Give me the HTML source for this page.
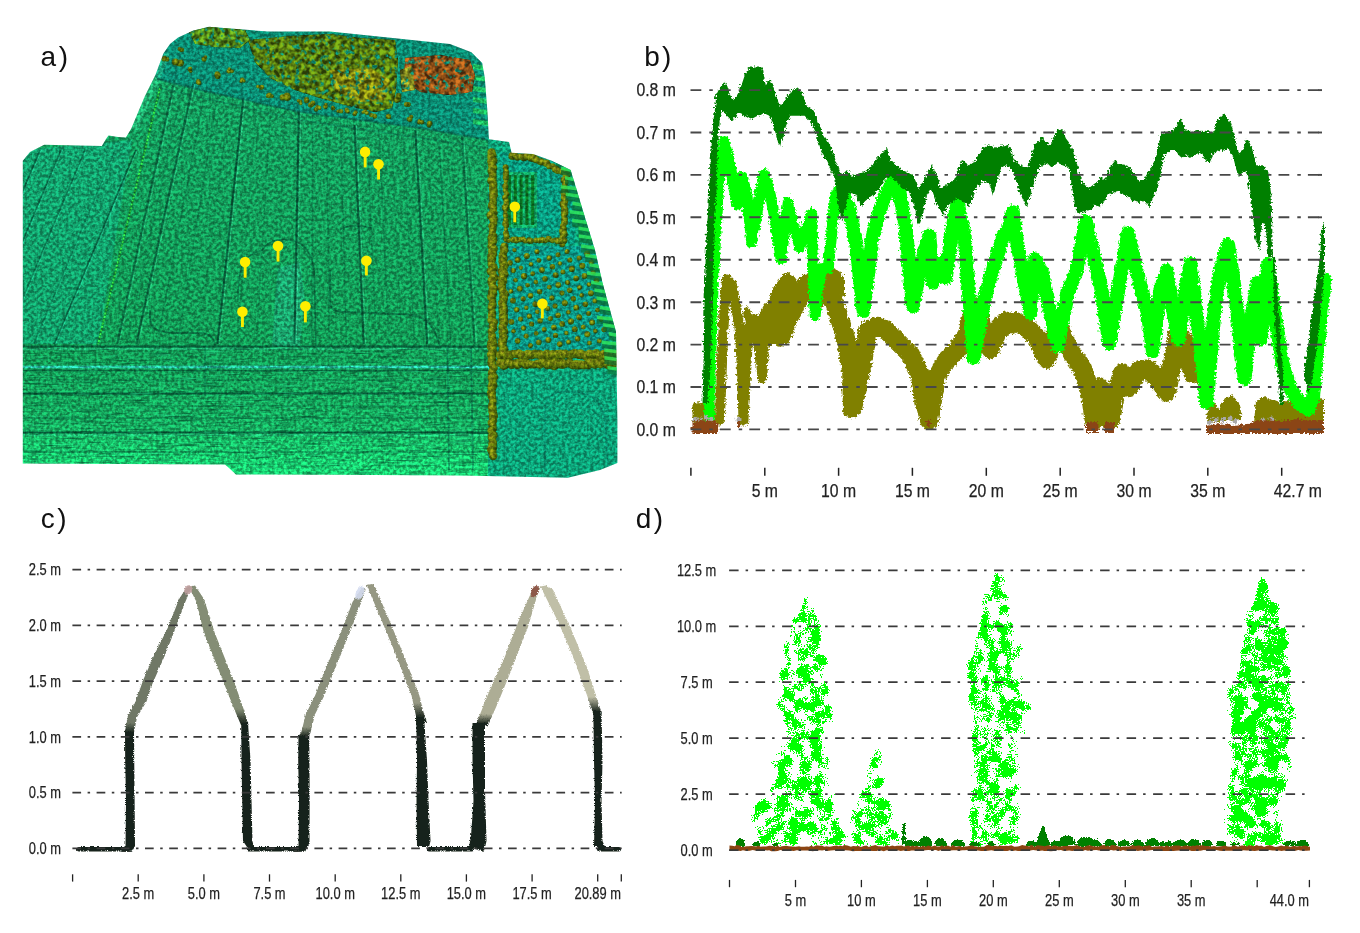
<!DOCTYPE html>
<html><head><meta charset="utf-8"><style>
html,body{margin:0;padding:0;background:#fff;width:1360px;height:933px;overflow:hidden}
svg{display:block}
text{font-family:'Liberation Sans',sans-serif;stroke:#222;stroke-width:0.25px}
</style></head><body>
<svg width="1360" height="933" viewBox="0 0 1360 933">
<defs>
<filter id="jag" x="-2%" y="-5%" width="104%" height="110%">
<feTurbulence type="turbulence" baseFrequency="0.3" numOctaves="1" seed="3" result="n"/>
<feDisplacementMap in="SourceGraphic" in2="n" scale="5" xChannelSelector="R" yChannelSelector="G"/>
</filter>
<filter id="jagc" x="-2%" y="-2%" width="104%" height="104%">
<feTurbulence type="turbulence" baseFrequency="0.5" numOctaves="1" seed="5" result="n"/>
<feDisplacementMap in="SourceGraphic" in2="n" scale="2.5" xChannelSelector="R" yChannelSelector="G"/>
</filter>
<filter id="spk" filterUnits="userSpaceOnUse" x="730" y="555" width="590" height="300" color-interpolation-filters="sRGB">
<feGaussianBlur in="SourceAlpha" stdDeviation="2.2" result="d"/>
<feTurbulence type="fractalNoise" baseFrequency="0.09" numOctaves="2" seed="4" result="lo"/>
<feTurbulence type="fractalNoise" baseFrequency="0.7" numOctaves="1" seed="8" result="hi"/>
<feColorMatrix in="lo" type="matrix" values="0 0 0 0 0  0 0 0 0 0  0 0 0 0 0  1 0 0 0 0" result="loa"/>
<feColorMatrix in="hi" type="matrix" values="0 0 0 0 0  0 0 0 0 0  0 0 0 0 0  1 0 0 0 0" result="hia"/>
<feComposite in="d" in2="loa" operator="arithmetic" k1="2.2" k2="-0.55" k3="0" k4="0" result="s1"/>
<feComposite in="s1" in2="hia" operator="arithmetic" k1="0" k2="1" k3="1.5" k4="-0.79" result="s2"/>
<feComponentTransfer in="s2" result="th"><feFuncA type="discrete" tableValues="0 1"/></feComponentTransfer>
<feFlood flood-color="#00ff00" result="f"/>
<feComposite in="f" in2="th" operator="in"/>
</filter><filter id="spk2" filterUnits="userSpaceOnUse" x="730" y="555" width="590" height="300" color-interpolation-filters="sRGB">
<feGaussianBlur in="SourceAlpha" stdDeviation="2.2" result="d"/>
<feTurbulence type="fractalNoise" baseFrequency="0.09" numOctaves="2" seed="6" result="lo"/>
<feTurbulence type="fractalNoise" baseFrequency="0.7" numOctaves="1" seed="9" result="hi"/>
<feColorMatrix in="lo" type="matrix" values="0 0 0 0 0  0 0 0 0 0  0 0 0 0 0  1 0 0 0 0" result="loa"/>
<feColorMatrix in="hi" type="matrix" values="0 0 0 0 0  0 0 0 0 0  0 0 0 0 0  1 0 0 0 0" result="hia"/>
<feComposite in="d" in2="loa" operator="arithmetic" k1="2.3" k2="-0.5" k3="0" k4="0" result="s1"/>
<feComposite in="s1" in2="hia" operator="arithmetic" k1="0" k2="1" k3="1.5" k4="-0.76" result="s2"/>
<feComponentTransfer in="s2" result="th"><feFuncA type="discrete" tableValues="0 1"/></feComponentTransfer>
<feFlood flood-color="#00ff00" result="f"/>
<feComposite in="f" in2="th" operator="in"/>
</filter><filter id="spkd" filterUnits="userSpaceOnUse" x="730" y="555" width="590" height="300" color-interpolation-filters="sRGB">
<feGaussianBlur in="SourceAlpha" stdDeviation="1.0" result="d"/>
<feTurbulence type="fractalNoise" baseFrequency="0.09" numOctaves="2" seed="3" result="lo"/>
<feTurbulence type="fractalNoise" baseFrequency="0.7" numOctaves="1" seed="5" result="hi"/>
<feColorMatrix in="lo" type="matrix" values="0 0 0 0 0  0 0 0 0 0  0 0 0 0 0  1 0 0 0 0" result="loa"/>
<feColorMatrix in="hi" type="matrix" values="0 0 0 0 0  0 0 0 0 0  0 0 0 0 0  1 0 0 0 0" result="hia"/>
<feComposite in="d" in2="loa" operator="arithmetic" k1="2.6" k2="-0.2" k3="0" k4="0" result="s1"/>
<feComposite in="s1" in2="hia" operator="arithmetic" k1="0" k2="1" k3="1.2" k4="-0.56" result="s2"/>
<feComponentTransfer in="s2" result="th"><feFuncA type="discrete" tableValues="0 1"/></feComponentTransfer>
<feFlood flood-color="#008000" result="f"/>
<feComposite in="f" in2="th" operator="in"/>
</filter>
<filter id="shr" x="-20%" y="-20%" width="140%" height="140%">
<feTurbulence type="turbulence" baseFrequency="0.5" numOctaves="1" seed="2" result="n"/>
<feDisplacementMap in="SourceGraphic" in2="n" scale="3" xChannelSelector="R" yChannelSelector="G"/>
</filter><filter id="streak" x="0" y="0" width="1" height="1" color-interpolation-filters="sRGB">
<feTurbulence type="fractalNoise" baseFrequency="0.04 0.55" numOctaves="2" seed="17" result="n"/>
<feColorMatrix in="n" type="matrix" values="0 0 0 0 0  0 0 0 0 0.25  0 0 0 0 0.15  -2.0 0 0 0 0.92" result="dk"/>
<feColorMatrix in="n" type="matrix" values="0 0 0 0 0.15  0 0 0 0 0.85  0 0 0 0 0.55  0 2.0 0 0 -1.15" result="lt"/>
<feMerge><feMergeNode in="dk"/><feMergeNode in="lt"/></feMerge>
</filter>
<filter id="tex" x="0" y="0" width="1" height="1" color-interpolation-filters="sRGB">
<feTurbulence type="fractalNoise" baseFrequency="0.32" numOctaves="2" seed="11" result="n"/>
<feColorMatrix in="n" type="matrix" values="2.6 0 0 0 -0.8  2.6 0 0 0 -0.8  2.6 0 0 0 -0.8  0 0 0 0 1" result="g"/>
<feComposite in="SourceGraphic" in2="g" operator="arithmetic" k1="0.55" k2="0.78" k3="0" k4="0"/>
</filter>
<filter id="veg" x="0" y="0" width="1" height="1" color-interpolation-filters="sRGB">
<feTurbulence type="fractalNoise" baseFrequency="0.2" numOctaves="2" seed="21" result="n"/>
<feColorMatrix in="n" type="matrix" values="2.6 0 0 0 -0.8  2.6 0 0 0 -0.8  2.6 0 0 0 -0.8  0 0 0 0 1" result="g"/>
<feComposite in="SourceGraphic" in2="g" operator="arithmetic" k1="0.95" k2="0.45" k3="0" k4="0" result="mod"/>
<feColorMatrix in="n" type="matrix" values="0 0 0 0 0  0 0 0 0 0  0 0 0 0 0  0 0 5 0 -1.3" result="m"/>
<feComposite in="mod" in2="m" operator="in"/>
</filter>
</defs>
<clipPath id="aclip"><polygon points="22.8,160.7 30.0,152.0 44.2,144.7 101.8,146.0 106.0,139.0 108.5,135.5 118.0,137.0 125.9,137.5 131.3,128.6 144.7,96.4 155.4,75.0 163.4,53.6 170.0,44.0 178.1,37.5 192.9,30.8 209.0,26.8 230.0,28.5 268.0,31.6 330.0,31.6 388.0,37.5 450.0,44.0 471.4,52.2 482.2,63.0 484.8,77.7 487.5,112.5 488.9,139.3 509.0,142.0 511.6,152.7 533.0,154.0 551.8,160.7 570.6,170.0 576.0,187.5 584.0,214.3 594.7,249.0 602.7,283.6 616.0,331.8 617.4,420.0 617.4,463.0 600.0,470.0 567.9,477.8 460.7,475.5 330.0,474.8 236.0,474.5 229.0,468.0 225.0,464.4 22.8,463.5"/></clipPath>
<radialGradient id="dotg" cx="0.4" cy="0.35" r="0.65"><stop offset="0" stop-color="#8c8c18"/><stop offset="0.5" stop-color="#5e720a"/><stop offset="1" stop-color="#2a4206"/></radialGradient>
<linearGradient id="agrad" x1="0" y1="0" x2="0" y2="1"><stop offset="0" stop-color="#14965c"/><stop offset="0.72" stop-color="#129452"/><stop offset="0.88" stop-color="#16a65c"/><stop offset="1" stop-color="#1ad272"/></linearGradient>
<g clip-path="url(#aclip)">
<g filter="url(#tex)">
<rect x="20" y="20" width="600" height="460" fill="url(#agrad)"/>
<polygon points="140.0,60.0 160.0,40.0 200.0,25.0 480.0,40.0 490.0,60.0 490.0,140.0 420.0,128.0 300.0,112.0 200.0,90.0 157.0,79.0" fill="#0a866e"/>
<polygon points="488.0,139.0 620.0,139.0 620.0,480.0 488.0,480.0" fill="#0c9a72"/>
<polygon points="505,246 596,246 612,350 505,350" fill="#0a9080"/>
<polygon points="500,152 560,160 575,185 575,244 500,244" fill="#08947a"/>
<rect x="505" y="172" width="32" height="56" fill="#10a060"/>
<rect x="508.0" y="175" width="3" height="50" fill="#0a6a20"/>
<rect x="513.8" y="175" width="3" height="50" fill="#0a6a20"/>
<rect x="519.6" y="175" width="3" height="50" fill="#0a6a20"/>
<rect x="525.4" y="175" width="3" height="50" fill="#0a6a20"/>
<rect x="531.2" y="175" width="3" height="50" fill="#0a6a20"/>
<polygon points="22,150 132,140 98,344 22,344" fill="#10a088" opacity="0.35"/>
<polygon points="278,268 300,262 305,300 300,346 272,346 275,300" fill="#30c0b8" opacity="0.22"/>
<polygon points="473,64 488,66 488,71 473,69" fill="#28d050" opacity="0.6"/>
<polygon points="473,75 488,77 488,82 473,80" fill="#28d050" opacity="0.6"/>
<polygon points="473,86 488,88 488,93 473,91" fill="#28d050" opacity="0.6"/>
<polygon points="473,97 488,99 488,104 473,102" fill="#28d050" opacity="0.6"/>
<polygon points="473,108 488,110 488,115 473,113" fill="#28d050" opacity="0.6"/>
<polygon points="473,119 488,121 488,126 473,124" fill="#28d050" opacity="0.6"/>
<line x1="174.4" y1="80.0" x2="117.1" y2="344" stroke="#04402c" stroke-opacity="0.55" stroke-width="2"/>
<line x1="176.4" y1="80.0" x2="119.1" y2="344" stroke="#48e0a8" stroke-opacity="0.25" stroke-width="1.2"/>
<line x1="193.0" y1="84.0" x2="136.3" y2="344" stroke="#04402c" stroke-opacity="0.60" stroke-width="2"/>
<line x1="195.0" y1="84.0" x2="138.3" y2="344" stroke="#48e0a8" stroke-opacity="0.27" stroke-width="1.2"/>
<line x1="243.2" y1="98.5" x2="217.4" y2="344" stroke="#04402c" stroke-opacity="0.75" stroke-width="2"/>
<line x1="245.2" y1="98.5" x2="219.4" y2="344" stroke="#48e0a8" stroke-opacity="0.34" stroke-width="1.2"/>
<line x1="298.8" y1="111.8" x2="294.4" y2="344" stroke="#04402c" stroke-opacity="0.75" stroke-width="2"/>
<line x1="300.8" y1="111.8" x2="296.4" y2="344" stroke="#48e0a8" stroke-opacity="0.34" stroke-width="1.2"/>
<line x1="354.4" y1="125.0" x2="363.6" y2="344" stroke="#04402c" stroke-opacity="0.70" stroke-width="2"/>
<line x1="356.4" y1="125.0" x2="365.6" y2="344" stroke="#48e0a8" stroke-opacity="0.32" stroke-width="1.2"/>
<line x1="415.3" y1="130.0" x2="427.1" y2="344" stroke="#04402c" stroke-opacity="0.70" stroke-width="2"/>
<line x1="417.3" y1="130.0" x2="429.1" y2="344" stroke="#48e0a8" stroke-opacity="0.32" stroke-width="1.2"/>
<line x1="462.0" y1="136.0" x2="474.5" y2="344" stroke="#04402c" stroke-opacity="0.50" stroke-width="2"/>
<line x1="464.0" y1="136.0" x2="476.5" y2="344" stroke="#48e0a8" stroke-opacity="0.23" stroke-width="1.2"/>
<line x1="183.7" y1="82.0" x2="126.7" y2="344" stroke="#04402c" stroke-opacity="0.22" stroke-width="1.4"/>
<line x1="205.6" y1="87.6" x2="156.9" y2="344" stroke="#04402c" stroke-opacity="0.25" stroke-width="1.4"/>
<line x1="218.1" y1="91.2" x2="177.3" y2="344" stroke="#04402c" stroke-opacity="0.25" stroke-width="1.4"/>
<line x1="230.6" y1="94.9" x2="197.5" y2="344" stroke="#04402c" stroke-opacity="0.17" stroke-width="1.4"/>
<line x1="257.1" y1="101.8" x2="236.9" y2="344" stroke="#04402c" stroke-opacity="0.15" stroke-width="1.4"/>
<line x1="271.0" y1="105.2" x2="256.2" y2="344" stroke="#04402c" stroke-opacity="0.21" stroke-width="1.4"/>
<line x1="284.9" y1="108.5" x2="275.4" y2="344" stroke="#04402c" stroke-opacity="0.19" stroke-width="1.4"/>
<line x1="312.7" y1="115.1" x2="311.8" y2="344" stroke="#04402c" stroke-opacity="0.27" stroke-width="1.4"/>
<line x1="326.6" y1="118.4" x2="329.2" y2="344" stroke="#04402c" stroke-opacity="0.25" stroke-width="1.4"/>
<line x1="340.5" y1="121.7" x2="346.4" y2="344" stroke="#04402c" stroke-opacity="0.24" stroke-width="1.4"/>
<line x1="366.6" y1="126.0" x2="376.3" y2="344" stroke="#04402c" stroke-opacity="0.23" stroke-width="1.4"/>
<line x1="378.8" y1="127.0" x2="389.0" y2="344" stroke="#04402c" stroke-opacity="0.25" stroke-width="1.4"/>
<line x1="390.9" y1="128.0" x2="401.7" y2="344" stroke="#04402c" stroke-opacity="0.17" stroke-width="1.4"/>
<line x1="403.1" y1="129.0" x2="414.4" y2="344" stroke="#04402c" stroke-opacity="0.22" stroke-width="1.4"/>
<line x1="427.0" y1="131.5" x2="438.9" y2="344" stroke="#04402c" stroke-opacity="0.17" stroke-width="1.4"/>
<line x1="438.6" y1="133.0" x2="450.8" y2="344" stroke="#04402c" stroke-opacity="0.29" stroke-width="1.4"/>
<line x1="450.3" y1="134.5" x2="462.6" y2="344" stroke="#04402c" stroke-opacity="0.16" stroke-width="1.4"/>
<line x1="160" y1="88" x2="98" y2="344" stroke="#0a6a2a" stroke-opacity="0.7" stroke-width="2"/>
<line x1="160" y1="88" x2="98" y2="344" stroke="#30d040" stroke-opacity="0.95" stroke-width="1.8" stroke-dasharray="2 1.5"/>
<polygon points="163,55 170,52 160,80 148,105 138,130 131,129 144,97 155,75" fill="#40e0a0" opacity="0.3"/>
<line x1="40.0" y1="150" x2="-41.5" y2="344" stroke="#04402c" stroke-opacity="0.59" stroke-width="1.6"/>
<line x1="41.5" y1="150" x2="-40.0" y2="344" stroke="#3ad6b0" stroke-opacity="0.29" stroke-width="1"/>
<line x1="60.9" y1="150" x2="-20.6" y2="344" stroke="#04402c" stroke-opacity="0.54" stroke-width="1.6"/>
<line x1="62.4" y1="150" x2="-19.1" y2="344" stroke="#3ad6b0" stroke-opacity="0.27" stroke-width="1"/>
<line x1="84.9" y1="150" x2="3.5" y2="344" stroke="#04402c" stroke-opacity="0.44" stroke-width="1.6"/>
<line x1="86.4" y1="150" x2="5.0" y2="344" stroke="#3ad6b0" stroke-opacity="0.22" stroke-width="1"/>
<line x1="115.0" y1="150" x2="33.6" y2="344" stroke="#04402c" stroke-opacity="0.31" stroke-width="1.6"/>
<line x1="116.5" y1="150" x2="35.1" y2="344" stroke="#3ad6b0" stroke-opacity="0.15" stroke-width="1"/>
<line x1="135.8" y1="150" x2="54.3" y2="344" stroke="#04402c" stroke-opacity="0.62" stroke-width="1.6"/>
<line x1="137.3" y1="150" x2="55.8" y2="344" stroke="#3ad6b0" stroke-opacity="0.31" stroke-width="1"/>
<polyline points="157,79 200,90 300,112 420,128 488,140" stroke="#0a5a48" stroke-opacity="0.6" fill="none" stroke-width="2"/>
<polyline points="160,88 300,120 488,148" stroke="#0a5a48" stroke-opacity="0.35" fill="none" stroke-width="1.5"/>
<path d="M150,310 C148,330 156,333 180,333 L200,333 C210,333 215,340 215,346" stroke="#04402c" stroke-opacity="0.5" fill="none" stroke-width="1.8"/>
<path d="M238,300 C238,262 245,255 262,250 C268,242 275,238 290,240 C305,242 312,255 314,270 L316,346" stroke="#04402c" stroke-opacity="0.5" fill="none" stroke-width="1.6"/>
<path d="M330,270 L330,300 C330,310 335,312 345,312 L400,314 C420,314 432,322 436,335 L440,346" stroke="#04402c" stroke-opacity="0.5" fill="none" stroke-width="1.8"/>
<path d="M340,230 C345,225 360,225 372,228" stroke="#04402c" stroke-opacity="0.5" fill="none" stroke-width="1.4"/>
<line x1="22.8" y1="346.5" x2="490" y2="346.5" stroke="#04402c" stroke-opacity="0.7" stroke-width="2.2"/>
<line x1="22.8" y1="349" x2="490" y2="349" stroke="#40d8b0" stroke-opacity="0.5" stroke-width="1.2"/>
<line x1="22.8" y1="367" x2="490" y2="367" stroke="#30c8b8" stroke-opacity="0.8" stroke-width="2.6"/>
<line x1="22.8" y1="370.5" x2="490" y2="370.5" stroke="#04402c" stroke-opacity="0.6" stroke-width="1.6"/>
<line x1="22.8" y1="393.4" x2="490" y2="393.4" stroke="#04402c" stroke-opacity="0.75" stroke-width="2"/>
<line x1="22.8" y1="432.5" x2="490" y2="432.5" stroke="#04402c" stroke-opacity="0.8" stroke-width="2"/>
<line x1="22.8" y1="435" x2="490" y2="435" stroke="#40d8b0" stroke-opacity="0.4" stroke-width="1.2"/>
<line x1="22.8" y1="418" x2="490" y2="418" stroke="#04402c" stroke-opacity="0.35" stroke-width="1.5"/>
<line x1="22.8" y1="452" x2="490" y2="452" stroke="#04402c" stroke-opacity="0.4" stroke-width="1.5"/>
<line x1="22.8" y1="380" x2="490" y2="380" stroke="#04402c" stroke-opacity="0.3" stroke-width="1.2"/>
<line x1="22.8" y1="406" x2="490" y2="406" stroke="#04402c" stroke-opacity="0.3" stroke-width="1.2"/>
<line x1="447.5" y1="346" x2="449" y2="470" stroke="#06503e" stroke-opacity="0.45" stroke-width="1.8"/>
<line x1="471" y1="346" x2="473" y2="470" stroke="#06503e" stroke-opacity="0.45" stroke-width="1.8"/>
<line x1="205" y1="346" x2="205" y2="395" stroke="#06503e" stroke-opacity="0.4" stroke-width="1.5"/>
<path d="M545,470 L545,410 C545,395 555,390 575,392 C595,394 600,400 605,420 L608,470" stroke="#0a6a5a" stroke-opacity="0.5" fill="none" stroke-width="1.5"/>
<circle cx="178.7" cy="63.0" r="3.3" fill="url(#dotg)"/>
<circle cx="180.5" cy="63.0" r="3.5" fill="url(#dotg)"/>
<circle cx="175.4" cy="61.9" r="3.5" fill="url(#dotg)"/>
<circle cx="190.6" cy="71.2" r="1.8" fill="url(#dotg)"/>
<circle cx="189.9" cy="69.2" r="2.2" fill="url(#dotg)"/>
<circle cx="190.3" cy="68.5" r="1.9" fill="url(#dotg)"/>
<circle cx="204.1" cy="59.2" r="2.5" fill="url(#dotg)"/>
<circle cx="203.6" cy="58.9" r="1.8" fill="url(#dotg)"/>
<circle cx="205.5" cy="56.9" r="1.7" fill="url(#dotg)"/>
<circle cx="217.1" cy="73.8" r="2.5" fill="url(#dotg)"/>
<circle cx="217.7" cy="76.5" r="2.6" fill="url(#dotg)"/>
<circle cx="217.6" cy="75.2" r="3.1" fill="url(#dotg)"/>
<circle cx="228.8" cy="71.3" r="2.4" fill="url(#dotg)"/>
<circle cx="232.0" cy="71.2" r="2.0" fill="url(#dotg)"/>
<circle cx="229.4" cy="69.0" r="1.8" fill="url(#dotg)"/>
<circle cx="198.2" cy="81.4" r="2.3" fill="url(#dotg)"/>
<circle cx="197.9" cy="82.5" r="2.0" fill="url(#dotg)"/>
<circle cx="199.2" cy="83.0" r="2.2" fill="url(#dotg)"/>
<circle cx="242.2" cy="79.9" r="2.4" fill="url(#dotg)"/>
<circle cx="241.1" cy="81.4" r="1.7" fill="url(#dotg)"/>
<circle cx="244.0" cy="81.0" r="1.7" fill="url(#dotg)"/>
<circle cx="261.2" cy="87.6" r="2.3" fill="url(#dotg)"/>
<circle cx="257.9" cy="86.6" r="1.8" fill="url(#dotg)"/>
<circle cx="261.9" cy="87.1" r="2.4" fill="url(#dotg)"/>
<circle cx="271.8" cy="96.3" r="2.0" fill="url(#dotg)"/>
<circle cx="269.4" cy="95.1" r="2.5" fill="url(#dotg)"/>
<circle cx="268.4" cy="95.7" r="2.5" fill="url(#dotg)"/>
<circle cx="287.0" cy="96.1" r="3.5" fill="url(#dotg)"/>
<circle cx="282.7" cy="97.4" r="3.1" fill="url(#dotg)"/>
<circle cx="287.3" cy="97.4" r="3.5" fill="url(#dotg)"/>
<circle cx="300.2" cy="101.4" r="2.0" fill="url(#dotg)"/>
<circle cx="298.6" cy="100.7" r="1.8" fill="url(#dotg)"/>
<circle cx="300.8" cy="103.5" r="1.8" fill="url(#dotg)"/>
<circle cx="316.1" cy="109.5" r="2.2" fill="url(#dotg)"/>
<circle cx="317.6" cy="107.2" r="2.3" fill="url(#dotg)"/>
<circle cx="319.4" cy="107.9" r="2.1" fill="url(#dotg)"/>
<circle cx="338.1" cy="111.2" r="1.7" fill="url(#dotg)"/>
<circle cx="340.0" cy="111.0" r="1.8" fill="url(#dotg)"/>
<circle cx="341.0" cy="111.3" r="2.3" fill="url(#dotg)"/>
<circle cx="411.2" cy="116.8" r="2.1" fill="url(#dotg)"/>
<circle cx="408.5" cy="119.0" r="2.0" fill="url(#dotg)"/>
<circle cx="409.8" cy="119.5" r="2.5" fill="url(#dotg)"/>
<circle cx="182.0" cy="49.9" r="2.2" fill="url(#dotg)"/>
<circle cx="181.0" cy="49.9" r="2.0" fill="url(#dotg)"/>
<circle cx="179.6" cy="48.9" r="2.0" fill="url(#dotg)"/>
<circle cx="167.1" cy="59.4" r="2.3" fill="url(#dotg)"/>
<circle cx="165.0" cy="57.5" r="1.7" fill="url(#dotg)"/>
<circle cx="164.0" cy="58.8" r="2.6" fill="url(#dotg)"/>
<circle cx="379.4" cy="48.9" r="2.5" fill="url(#dotg)"/>
<circle cx="380.8" cy="48.5" r="2.4" fill="url(#dotg)"/>
<circle cx="379.4" cy="48.6" r="1.9" fill="url(#dotg)"/>
<circle cx="397.9" cy="99.1" r="3.2" fill="url(#dotg)"/>
<circle cx="396.8" cy="99.8" r="3.1" fill="url(#dotg)"/>
<circle cx="398.5" cy="96.0" r="3.0" fill="url(#dotg)"/>
<circle cx="406.0" cy="104.5" r="2.1" fill="url(#dotg)"/>
<circle cx="408.3" cy="104.4" r="2.5" fill="url(#dotg)"/>
<circle cx="406.4" cy="104.4" r="2.4" fill="url(#dotg)"/>
<circle cx="306.4" cy="99.6" r="2.5" fill="url(#dotg)"/>
<circle cx="306.6" cy="100.6" r="2.7" fill="url(#dotg)"/>
<circle cx="306.9" cy="100.1" r="2.2" fill="url(#dotg)"/>
<circle cx="310.6" cy="105.0" r="2.6" fill="url(#dotg)"/>
<circle cx="311.9" cy="104.6" r="2.4" fill="url(#dotg)"/>
<circle cx="313.0" cy="103.0" r="2.5" fill="url(#dotg)"/>
<circle cx="325.3" cy="106.5" r="2.1" fill="url(#dotg)"/>
<circle cx="325.5" cy="106.8" r="2.3" fill="url(#dotg)"/>
<circle cx="325.9" cy="104.6" r="1.8" fill="url(#dotg)"/>
<circle cx="332.8" cy="108.5" r="1.9" fill="url(#dotg)"/>
<circle cx="333.8" cy="108.4" r="1.7" fill="url(#dotg)"/>
<circle cx="332.9" cy="107.2" r="1.7" fill="url(#dotg)"/>
<circle cx="346.5" cy="110.5" r="1.8" fill="url(#dotg)"/>
<circle cx="346.7" cy="109.6" r="2.1" fill="url(#dotg)"/>
<circle cx="347.5" cy="111.3" r="2.3" fill="url(#dotg)"/>
<circle cx="354.9" cy="114.2" r="1.7" fill="url(#dotg)"/>
<circle cx="355.6" cy="112.3" r="2.1" fill="url(#dotg)"/>
<circle cx="354.4" cy="114.0" r="2.0" fill="url(#dotg)"/>
<circle cx="363.1" cy="112.3" r="1.7" fill="url(#dotg)"/>
<circle cx="365.2" cy="111.5" r="2.3" fill="url(#dotg)"/>
<circle cx="366.9" cy="113.0" r="2.1" fill="url(#dotg)"/>
<circle cx="374.3" cy="115.4" r="2.0" fill="url(#dotg)"/>
<circle cx="371.5" cy="115.3" r="2.2" fill="url(#dotg)"/>
<circle cx="374.9" cy="116.4" r="2.3" fill="url(#dotg)"/>
<circle cx="389.4" cy="117.2" r="1.7" fill="url(#dotg)"/>
<circle cx="388.4" cy="116.2" r="2.3" fill="url(#dotg)"/>
<circle cx="388.5" cy="116.4" r="2.6" fill="url(#dotg)"/>
<circle cx="419.5" cy="120.8" r="1.9" fill="url(#dotg)"/>
<circle cx="419.1" cy="122.4" r="2.0" fill="url(#dotg)"/>
<circle cx="421.9" cy="122.2" r="2.3" fill="url(#dotg)"/>
<circle cx="429.0" cy="125.4" r="2.2" fill="url(#dotg)"/>
<circle cx="429.6" cy="123.5" r="2.7" fill="url(#dotg)"/>
<circle cx="430.0" cy="123.4" r="2.2" fill="url(#dotg)"/>
<circle cx="491.5" cy="152.3" r="4.1" fill="url(#dotg)"/>
<circle cx="492.0" cy="155.3" r="4.6" fill="url(#dotg)"/>
<circle cx="491.2" cy="157.3" r="3.9" fill="url(#dotg)"/>
<circle cx="493.6" cy="160.6" r="3.9" fill="url(#dotg)"/>
<circle cx="491.9" cy="161.6" r="4.8" fill="url(#dotg)"/>
<circle cx="492.0" cy="165.3" r="4.2" fill="url(#dotg)"/>
<circle cx="492.9" cy="167.9" r="4.5" fill="url(#dotg)"/>
<circle cx="491.5" cy="171.0" r="4.0" fill="url(#dotg)"/>
<circle cx="492.6" cy="172.5" r="4.0" fill="url(#dotg)"/>
<circle cx="492.6" cy="175.4" r="4.0" fill="url(#dotg)"/>
<circle cx="493.1" cy="178.4" r="3.6" fill="url(#dotg)"/>
<circle cx="491.9" cy="180.6" r="4.7" fill="url(#dotg)"/>
<circle cx="493.5" cy="183.5" r="3.6" fill="url(#dotg)"/>
<circle cx="493.2" cy="185.8" r="4.3" fill="url(#dotg)"/>
<circle cx="493.0" cy="188.9" r="4.2" fill="url(#dotg)"/>
<circle cx="493.6" cy="190.9" r="4.1" fill="url(#dotg)"/>
<circle cx="493.4" cy="193.0" r="4.0" fill="url(#dotg)"/>
<circle cx="493.4" cy="195.3" r="4.6" fill="url(#dotg)"/>
<circle cx="493.0" cy="198.8" r="3.9" fill="url(#dotg)"/>
<circle cx="493.2" cy="202.7" r="3.8" fill="url(#dotg)"/>
<circle cx="492.4" cy="204.4" r="4.2" fill="url(#dotg)"/>
<circle cx="492.1" cy="206.0" r="4.3" fill="url(#dotg)"/>
<circle cx="493.3" cy="208.3" r="3.9" fill="url(#dotg)"/>
<circle cx="493.3" cy="212.8" r="4.4" fill="url(#dotg)"/>
<circle cx="491.3" cy="215.3" r="4.8" fill="url(#dotg)"/>
<circle cx="493.8" cy="217.8" r="3.7" fill="url(#dotg)"/>
<circle cx="493.4" cy="219.2" r="4.4" fill="url(#dotg)"/>
<circle cx="493.7" cy="223.1" r="3.8" fill="url(#dotg)"/>
<circle cx="492.0" cy="226.2" r="3.8" fill="url(#dotg)"/>
<circle cx="492.8" cy="227.5" r="3.8" fill="url(#dotg)"/>
<circle cx="492.8" cy="229.2" r="3.7" fill="url(#dotg)"/>
<circle cx="492.2" cy="231.9" r="3.7" fill="url(#dotg)"/>
<circle cx="492.7" cy="236.2" r="4.7" fill="url(#dotg)"/>
<circle cx="491.5" cy="238.0" r="4.0" fill="url(#dotg)"/>
<circle cx="492.8" cy="240.8" r="4.7" fill="url(#dotg)"/>
<circle cx="492.2" cy="242.3" r="4.4" fill="url(#dotg)"/>
<circle cx="491.6" cy="246.4" r="4.2" fill="url(#dotg)"/>
<circle cx="493.6" cy="248.8" r="4.3" fill="url(#dotg)"/>
<circle cx="491.9" cy="251.4" r="3.9" fill="url(#dotg)"/>
<circle cx="493.2" cy="253.9" r="3.8" fill="url(#dotg)"/>
<circle cx="491.8" cy="256.1" r="4.5" fill="url(#dotg)"/>
<circle cx="491.7" cy="259.6" r="4.4" fill="url(#dotg)"/>
<circle cx="491.4" cy="262.1" r="3.7" fill="url(#dotg)"/>
<circle cx="491.5" cy="264.6" r="3.9" fill="url(#dotg)"/>
<circle cx="493.5" cy="266.9" r="4.0" fill="url(#dotg)"/>
<circle cx="493.3" cy="268.3" r="4.5" fill="url(#dotg)"/>
<circle cx="491.3" cy="271.2" r="4.7" fill="url(#dotg)"/>
<circle cx="493.0" cy="274.0" r="3.7" fill="url(#dotg)"/>
<circle cx="493.7" cy="277.8" r="4.6" fill="url(#dotg)"/>
<circle cx="491.6" cy="280.3" r="4.0" fill="url(#dotg)"/>
<circle cx="491.8" cy="282.2" r="4.3" fill="url(#dotg)"/>
<circle cx="492.1" cy="284.9" r="3.8" fill="url(#dotg)"/>
<circle cx="493.4" cy="288.2" r="4.6" fill="url(#dotg)"/>
<circle cx="492.3" cy="291.4" r="4.2" fill="url(#dotg)"/>
<circle cx="492.7" cy="293.2" r="4.5" fill="url(#dotg)"/>
<circle cx="492.2" cy="294.6" r="3.6" fill="url(#dotg)"/>
<circle cx="491.7" cy="297.1" r="4.7" fill="url(#dotg)"/>
<circle cx="492.5" cy="301.6" r="3.6" fill="url(#dotg)"/>
<circle cx="492.4" cy="304.5" r="4.3" fill="url(#dotg)"/>
<circle cx="492.3" cy="306.0" r="3.7" fill="url(#dotg)"/>
<circle cx="491.6" cy="307.8" r="4.0" fill="url(#dotg)"/>
<circle cx="492.2" cy="312.3" r="3.8" fill="url(#dotg)"/>
<circle cx="491.9" cy="313.4" r="3.8" fill="url(#dotg)"/>
<circle cx="491.9" cy="315.9" r="4.2" fill="url(#dotg)"/>
<circle cx="491.3" cy="320.3" r="4.0" fill="url(#dotg)"/>
<circle cx="493.6" cy="322.3" r="4.4" fill="url(#dotg)"/>
<circle cx="492.4" cy="325.6" r="3.7" fill="url(#dotg)"/>
<circle cx="492.9" cy="326.5" r="4.4" fill="url(#dotg)"/>
<circle cx="493.1" cy="328.7" r="3.8" fill="url(#dotg)"/>
<circle cx="491.3" cy="331.5" r="3.7" fill="url(#dotg)"/>
<circle cx="492.2" cy="336.1" r="4.0" fill="url(#dotg)"/>
<circle cx="492.0" cy="337.4" r="3.9" fill="url(#dotg)"/>
<circle cx="493.1" cy="340.6" r="3.8" fill="url(#dotg)"/>
<circle cx="491.8" cy="343.1" r="4.7" fill="url(#dotg)"/>
<circle cx="492.9" cy="345.1" r="4.8" fill="url(#dotg)"/>
<circle cx="491.2" cy="346.8" r="4.5" fill="url(#dotg)"/>
<circle cx="492.3" cy="349.3" r="4.3" fill="url(#dotg)"/>
<circle cx="493.8" cy="353.2" r="4.0" fill="url(#dotg)"/>
<circle cx="491.4" cy="354.6" r="4.7" fill="url(#dotg)"/>
<circle cx="492.5" cy="359.5" r="3.7" fill="url(#dotg)"/>
<circle cx="491.8" cy="359.8" r="4.1" fill="url(#dotg)"/>
<circle cx="491.4" cy="362.9" r="4.1" fill="url(#dotg)"/>
<circle cx="492.0" cy="365.0" r="3.6" fill="url(#dotg)"/>
<circle cx="493.7" cy="368.0" r="4.2" fill="url(#dotg)"/>
<circle cx="492.2" cy="371.5" r="3.7" fill="url(#dotg)"/>
<circle cx="492.0" cy="373.0" r="4.3" fill="url(#dotg)"/>
<circle cx="493.6" cy="376.9" r="4.6" fill="url(#dotg)"/>
<circle cx="491.8" cy="378.0" r="4.2" fill="url(#dotg)"/>
<circle cx="492.5" cy="382.0" r="4.1" fill="url(#dotg)"/>
<circle cx="492.8" cy="385.1" r="4.7" fill="url(#dotg)"/>
<circle cx="492.0" cy="387.0" r="4.6" fill="url(#dotg)"/>
<circle cx="491.8" cy="388.7" r="4.0" fill="url(#dotg)"/>
<circle cx="491.4" cy="393.0" r="4.6" fill="url(#dotg)"/>
<circle cx="492.0" cy="394.0" r="3.7" fill="url(#dotg)"/>
<circle cx="491.8" cy="396.5" r="4.1" fill="url(#dotg)"/>
<circle cx="492.7" cy="399.5" r="3.7" fill="url(#dotg)"/>
<circle cx="493.0" cy="401.6" r="3.8" fill="url(#dotg)"/>
<circle cx="491.9" cy="405.0" r="3.7" fill="url(#dotg)"/>
<circle cx="492.3" cy="407.5" r="4.5" fill="url(#dotg)"/>
<circle cx="492.6" cy="411.6" r="4.4" fill="url(#dotg)"/>
<circle cx="493.2" cy="413.4" r="4.1" fill="url(#dotg)"/>
<circle cx="493.3" cy="416.2" r="4.7" fill="url(#dotg)"/>
<circle cx="493.1" cy="419.0" r="3.9" fill="url(#dotg)"/>
<circle cx="493.3" cy="420.7" r="3.8" fill="url(#dotg)"/>
<circle cx="491.4" cy="422.8" r="3.9" fill="url(#dotg)"/>
<circle cx="493.0" cy="425.7" r="3.7" fill="url(#dotg)"/>
<circle cx="493.2" cy="429.0" r="3.6" fill="url(#dotg)"/>
<circle cx="491.3" cy="430.5" r="4.0" fill="url(#dotg)"/>
<circle cx="493.4" cy="435.3" r="4.3" fill="url(#dotg)"/>
<circle cx="491.8" cy="436.5" r="4.0" fill="url(#dotg)"/>
<circle cx="492.1" cy="438.1" r="4.3" fill="url(#dotg)"/>
<circle cx="493.3" cy="442.5" r="3.7" fill="url(#dotg)"/>
<circle cx="492.6" cy="443.7" r="4.5" fill="url(#dotg)"/>
<circle cx="492.4" cy="448.3" r="4.6" fill="url(#dotg)"/>
<circle cx="491.5" cy="449.3" r="4.7" fill="url(#dotg)"/>
<circle cx="492.4" cy="452.2" r="4.1" fill="url(#dotg)"/>
<circle cx="493.2" cy="456.1" r="4.2" fill="url(#dotg)"/>
<circle cx="504.2" cy="246.2" r="3.7" fill="url(#dotg)"/>
<circle cx="503.8" cy="248.4" r="3.7" fill="url(#dotg)"/>
<circle cx="504.2" cy="250.1" r="4.3" fill="url(#dotg)"/>
<circle cx="503.0" cy="254.9" r="4.1" fill="url(#dotg)"/>
<circle cx="502.3" cy="256.0" r="3.8" fill="url(#dotg)"/>
<circle cx="503.2" cy="258.8" r="4.5" fill="url(#dotg)"/>
<circle cx="502.3" cy="261.4" r="3.9" fill="url(#dotg)"/>
<circle cx="504.3" cy="265.3" r="4.6" fill="url(#dotg)"/>
<circle cx="503.3" cy="266.8" r="3.8" fill="url(#dotg)"/>
<circle cx="503.9" cy="269.7" r="3.6" fill="url(#dotg)"/>
<circle cx="502.1" cy="271.3" r="4.5" fill="url(#dotg)"/>
<circle cx="504.0" cy="274.2" r="4.6" fill="url(#dotg)"/>
<circle cx="502.5" cy="278.1" r="4.6" fill="url(#dotg)"/>
<circle cx="503.3" cy="281.1" r="4.1" fill="url(#dotg)"/>
<circle cx="501.7" cy="282.9" r="4.3" fill="url(#dotg)"/>
<circle cx="502.2" cy="285.3" r="4.0" fill="url(#dotg)"/>
<circle cx="501.8" cy="287.7" r="4.1" fill="url(#dotg)"/>
<circle cx="502.9" cy="291.3" r="4.1" fill="url(#dotg)"/>
<circle cx="504.3" cy="294.3" r="4.7" fill="url(#dotg)"/>
<circle cx="503.5" cy="296.5" r="4.2" fill="url(#dotg)"/>
<circle cx="503.8" cy="298.4" r="4.3" fill="url(#dotg)"/>
<circle cx="503.5" cy="301.4" r="3.9" fill="url(#dotg)"/>
<circle cx="501.9" cy="302.9" r="4.0" fill="url(#dotg)"/>
<circle cx="503.2" cy="307.3" r="4.5" fill="url(#dotg)"/>
<circle cx="502.5" cy="310.4" r="3.9" fill="url(#dotg)"/>
<circle cx="503.6" cy="310.8" r="4.5" fill="url(#dotg)"/>
<circle cx="503.4" cy="315.7" r="4.7" fill="url(#dotg)"/>
<circle cx="503.5" cy="318.1" r="4.5" fill="url(#dotg)"/>
<circle cx="503.3" cy="319.1" r="4.2" fill="url(#dotg)"/>
<circle cx="504.0" cy="321.8" r="4.8" fill="url(#dotg)"/>
<circle cx="503.1" cy="324.8" r="3.6" fill="url(#dotg)"/>
<circle cx="502.7" cy="326.9" r="4.4" fill="url(#dotg)"/>
<circle cx="504.0" cy="331.4" r="4.3" fill="url(#dotg)"/>
<circle cx="502.7" cy="332.0" r="4.4" fill="url(#dotg)"/>
<circle cx="503.1" cy="336.2" r="4.0" fill="url(#dotg)"/>
<circle cx="504.0" cy="337.5" r="4.0" fill="url(#dotg)"/>
<circle cx="502.4" cy="341.2" r="4.7" fill="url(#dotg)"/>
<circle cx="502.1" cy="343.9" r="4.5" fill="url(#dotg)"/>
<circle cx="502.3" cy="345.0" r="4.3" fill="url(#dotg)"/>
<circle cx="503.9" cy="349.8" r="4.5" fill="url(#dotg)"/>
<circle cx="502.8" cy="351.3" r="4.2" fill="url(#dotg)"/>
<circle cx="504.1" cy="353.6" r="3.9" fill="url(#dotg)"/>
<circle cx="503.3" cy="357.9" r="3.8" fill="url(#dotg)"/>
<circle cx="501.8" cy="358.4" r="4.3" fill="url(#dotg)"/>
<circle cx="503.3" cy="361.2" r="3.8" fill="url(#dotg)"/>
<circle cx="500.3" cy="355.4" r="4.6" fill="url(#dotg)"/>
<circle cx="503.3" cy="353.8" r="4.4" fill="url(#dotg)"/>
<circle cx="506.2" cy="356.3" r="4.2" fill="url(#dotg)"/>
<circle cx="508.9" cy="355.4" r="4.9" fill="url(#dotg)"/>
<circle cx="509.8" cy="355.6" r="4.8" fill="url(#dotg)"/>
<circle cx="513.1" cy="353.9" r="4.0" fill="url(#dotg)"/>
<circle cx="514.9" cy="353.9" r="4.0" fill="url(#dotg)"/>
<circle cx="518.8" cy="353.9" r="4.7" fill="url(#dotg)"/>
<circle cx="521.8" cy="355.9" r="4.8" fill="url(#dotg)"/>
<circle cx="524.3" cy="356.2" r="4.9" fill="url(#dotg)"/>
<circle cx="526.7" cy="356.3" r="3.9" fill="url(#dotg)"/>
<circle cx="527.9" cy="353.8" r="4.0" fill="url(#dotg)"/>
<circle cx="531.3" cy="354.9" r="4.6" fill="url(#dotg)"/>
<circle cx="535.0" cy="353.8" r="4.3" fill="url(#dotg)"/>
<circle cx="537.0" cy="354.7" r="3.9" fill="url(#dotg)"/>
<circle cx="539.8" cy="354.6" r="4.6" fill="url(#dotg)"/>
<circle cx="542.2" cy="356.3" r="4.9" fill="url(#dotg)"/>
<circle cx="543.6" cy="355.7" r="4.7" fill="url(#dotg)"/>
<circle cx="546.9" cy="353.9" r="4.4" fill="url(#dotg)"/>
<circle cx="549.7" cy="355.7" r="4.9" fill="url(#dotg)"/>
<circle cx="552.4" cy="354.4" r="4.4" fill="url(#dotg)"/>
<circle cx="555.9" cy="355.8" r="4.5" fill="url(#dotg)"/>
<circle cx="557.4" cy="354.5" r="4.8" fill="url(#dotg)"/>
<circle cx="560.7" cy="353.7" r="4.3" fill="url(#dotg)"/>
<circle cx="562.5" cy="355.5" r="3.9" fill="url(#dotg)"/>
<circle cx="565.3" cy="353.9" r="4.4" fill="url(#dotg)"/>
<circle cx="569.9" cy="355.1" r="4.3" fill="url(#dotg)"/>
<circle cx="572.4" cy="353.9" r="4.2" fill="url(#dotg)"/>
<circle cx="574.7" cy="353.6" r="4.7" fill="url(#dotg)"/>
<circle cx="576.1" cy="353.6" r="4.1" fill="url(#dotg)"/>
<circle cx="579.0" cy="354.7" r="4.4" fill="url(#dotg)"/>
<circle cx="580.5" cy="354.2" r="5.0" fill="url(#dotg)"/>
<circle cx="584.2" cy="354.9" r="3.9" fill="url(#dotg)"/>
<circle cx="586.4" cy="356.3" r="4.6" fill="url(#dotg)"/>
<circle cx="589.7" cy="353.7" r="4.3" fill="url(#dotg)"/>
<circle cx="593.1" cy="354.8" r="4.5" fill="url(#dotg)"/>
<circle cx="596.0" cy="355.4" r="4.6" fill="url(#dotg)"/>
<circle cx="596.2" cy="353.7" r="4.7" fill="url(#dotg)"/>
<circle cx="599.9" cy="356.0" r="4.8" fill="url(#dotg)"/>
<circle cx="604.0" cy="354.7" r="5.0" fill="url(#dotg)"/>
<circle cx="606.2" cy="356.1" r="4.0" fill="url(#dotg)"/>
<circle cx="608.9" cy="354.8" r="5.0" fill="url(#dotg)"/>
<circle cx="612.1" cy="354.2" r="4.3" fill="url(#dotg)"/>
<circle cx="612.7" cy="354.9" r="4.1" fill="url(#dotg)"/>
<circle cx="616.5" cy="353.9" r="4.0" fill="url(#dotg)"/>
<circle cx="499.9" cy="362.8" r="4.3" fill="url(#dotg)"/>
<circle cx="503.7" cy="365.1" r="4.0" fill="url(#dotg)"/>
<circle cx="503.9" cy="364.9" r="5.0" fill="url(#dotg)"/>
<circle cx="508.2" cy="363.0" r="4.1" fill="url(#dotg)"/>
<circle cx="511.7" cy="365.2" r="3.8" fill="url(#dotg)"/>
<circle cx="512.3" cy="363.8" r="4.1" fill="url(#dotg)"/>
<circle cx="516.5" cy="363.6" r="4.7" fill="url(#dotg)"/>
<circle cx="517.5" cy="364.1" r="5.0" fill="url(#dotg)"/>
<circle cx="521.7" cy="362.9" r="3.9" fill="url(#dotg)"/>
<circle cx="524.1" cy="363.6" r="4.2" fill="url(#dotg)"/>
<circle cx="526.3" cy="364.2" r="5.0" fill="url(#dotg)"/>
<circle cx="528.3" cy="364.2" r="4.1" fill="url(#dotg)"/>
<circle cx="531.8" cy="364.6" r="4.0" fill="url(#dotg)"/>
<circle cx="534.2" cy="364.6" r="3.8" fill="url(#dotg)"/>
<circle cx="537.7" cy="363.8" r="4.4" fill="url(#dotg)"/>
<circle cx="539.9" cy="364.8" r="3.9" fill="url(#dotg)"/>
<circle cx="542.2" cy="362.7" r="4.3" fill="url(#dotg)"/>
<circle cx="544.4" cy="362.7" r="4.2" fill="url(#dotg)"/>
<circle cx="547.3" cy="364.4" r="4.9" fill="url(#dotg)"/>
<circle cx="549.7" cy="364.1" r="4.7" fill="url(#dotg)"/>
<circle cx="554.0" cy="365.3" r="5.0" fill="url(#dotg)"/>
<circle cx="554.8" cy="363.1" r="4.9" fill="url(#dotg)"/>
<circle cx="556.8" cy="363.9" r="4.7" fill="url(#dotg)"/>
<circle cx="560.7" cy="363.7" r="4.9" fill="url(#dotg)"/>
<circle cx="562.7" cy="364.1" r="4.8" fill="url(#dotg)"/>
<circle cx="564.9" cy="363.6" r="4.4" fill="url(#dotg)"/>
<circle cx="568.7" cy="363.2" r="4.3" fill="url(#dotg)"/>
<circle cx="569.9" cy="362.8" r="4.2" fill="url(#dotg)"/>
<circle cx="572.8" cy="365.3" r="4.1" fill="url(#dotg)"/>
<circle cx="575.8" cy="364.8" r="4.7" fill="url(#dotg)"/>
<circle cx="578.4" cy="364.9" r="4.6" fill="url(#dotg)"/>
<circle cx="581.4" cy="364.4" r="4.1" fill="url(#dotg)"/>
<circle cx="583.7" cy="365.1" r="4.3" fill="url(#dotg)"/>
<circle cx="588.1" cy="363.1" r="4.0" fill="url(#dotg)"/>
<circle cx="588.4" cy="364.7" r="4.5" fill="url(#dotg)"/>
<circle cx="590.9" cy="362.7" r="4.8" fill="url(#dotg)"/>
<circle cx="594.9" cy="365.0" r="3.8" fill="url(#dotg)"/>
<circle cx="597.8" cy="362.9" r="4.7" fill="url(#dotg)"/>
<circle cx="600.5" cy="364.3" r="4.1" fill="url(#dotg)"/>
<circle cx="604.1" cy="362.9" r="3.9" fill="url(#dotg)"/>
<circle cx="606.0" cy="362.9" r="3.9" fill="url(#dotg)"/>
<circle cx="608.0" cy="364.4" r="4.9" fill="url(#dotg)"/>
<circle cx="611.3" cy="362.8" r="4.6" fill="url(#dotg)"/>
<circle cx="614.3" cy="362.9" r="4.7" fill="url(#dotg)"/>
<circle cx="615.3" cy="363.4" r="3.8" fill="url(#dotg)"/>
<circle cx="512.5" cy="156.0" r="4.1" fill="url(#dotg)"/>
<circle cx="514.9" cy="155.6" r="3.3" fill="url(#dotg)"/>
<circle cx="517.5" cy="157.5" r="3.2" fill="url(#dotg)"/>
<circle cx="520.2" cy="156.6" r="3.1" fill="url(#dotg)"/>
<circle cx="523.9" cy="157.4" r="3.8" fill="url(#dotg)"/>
<circle cx="526.3" cy="156.7" r="3.6" fill="url(#dotg)"/>
<circle cx="530.4" cy="157.6" r="3.7" fill="url(#dotg)"/>
<circle cx="533.8" cy="157.3" r="3.3" fill="url(#dotg)"/>
<circle cx="533.0" cy="158.1" r="4.1" fill="url(#dotg)"/>
<circle cx="536.3" cy="159.8" r="3.5" fill="url(#dotg)"/>
<circle cx="539.9" cy="161.6" r="3.4" fill="url(#dotg)"/>
<circle cx="541.8" cy="161.9" r="3.4" fill="url(#dotg)"/>
<circle cx="546.5" cy="163.3" r="3.8" fill="url(#dotg)"/>
<circle cx="549.2" cy="166.2" r="3.1" fill="url(#dotg)"/>
<circle cx="552.6" cy="166.4" r="3.1" fill="url(#dotg)"/>
<circle cx="555.5" cy="168.9" r="3.7" fill="url(#dotg)"/>
<circle cx="557.6" cy="170.6" r="3.5" fill="url(#dotg)"/>
<circle cx="561.9" cy="171.5" r="3.3" fill="url(#dotg)"/>
<circle cx="564.6" cy="172.2" r="3.1" fill="url(#dotg)"/>
<circle cx="567.1" cy="174.4" r="3.5" fill="url(#dotg)"/>
<circle cx="565.7" cy="175.1" r="3.2" fill="url(#dotg)"/>
<circle cx="564.3" cy="180.0" r="3.7" fill="url(#dotg)"/>
<circle cx="565.6" cy="182.2" r="2.9" fill="url(#dotg)"/>
<circle cx="564.6" cy="184.7" r="2.8" fill="url(#dotg)"/>
<circle cx="564.8" cy="187.9" r="2.9" fill="url(#dotg)"/>
<circle cx="564.6" cy="192.3" r="3.9" fill="url(#dotg)"/>
<circle cx="564.4" cy="193.8" r="3.7" fill="url(#dotg)"/>
<circle cx="563.6" cy="197.7" r="2.9" fill="url(#dotg)"/>
<circle cx="565.2" cy="200.8" r="3.3" fill="url(#dotg)"/>
<circle cx="563.7" cy="203.9" r="4.0" fill="url(#dotg)"/>
<circle cx="563.9" cy="206.3" r="3.4" fill="url(#dotg)"/>
<circle cx="564.8" cy="209.8" r="3.6" fill="url(#dotg)"/>
<circle cx="564.7" cy="212.7" r="3.8" fill="url(#dotg)"/>
<circle cx="563.9" cy="215.5" r="2.9" fill="url(#dotg)"/>
<circle cx="564.6" cy="219.2" r="3.3" fill="url(#dotg)"/>
<circle cx="564.5" cy="222.5" r="3.4" fill="url(#dotg)"/>
<circle cx="563.1" cy="225.9" r="3.1" fill="url(#dotg)"/>
<circle cx="563.4" cy="229.1" r="3.5" fill="url(#dotg)"/>
<circle cx="562.6" cy="231.0" r="3.6" fill="url(#dotg)"/>
<circle cx="563.7" cy="233.9" r="4.0" fill="url(#dotg)"/>
<circle cx="562.4" cy="237.2" r="2.9" fill="url(#dotg)"/>
<circle cx="563.0" cy="241.1" r="3.8" fill="url(#dotg)"/>
<circle cx="562.3" cy="244.4" r="2.9" fill="url(#dotg)"/>
<circle cx="506.2" cy="239.5" r="2.8" fill="url(#dotg)"/>
<circle cx="508.4" cy="240.4" r="2.5" fill="url(#dotg)"/>
<circle cx="513.1" cy="239.7" r="3.1" fill="url(#dotg)"/>
<circle cx="516.1" cy="240.0" r="3.4" fill="url(#dotg)"/>
<circle cx="520.0" cy="239.6" r="2.8" fill="url(#dotg)"/>
<circle cx="523.1" cy="239.3" r="2.9" fill="url(#dotg)"/>
<circle cx="525.5" cy="241.0" r="2.6" fill="url(#dotg)"/>
<circle cx="529.3" cy="240.5" r="3.3" fill="url(#dotg)"/>
<circle cx="531.2" cy="240.9" r="2.8" fill="url(#dotg)"/>
<circle cx="536.2" cy="240.3" r="2.9" fill="url(#dotg)"/>
<circle cx="539.5" cy="240.4" r="2.8" fill="url(#dotg)"/>
<circle cx="542.5" cy="240.0" r="3.3" fill="url(#dotg)"/>
<circle cx="545.6" cy="240.6" r="2.6" fill="url(#dotg)"/>
<circle cx="548.6" cy="239.0" r="3.3" fill="url(#dotg)"/>
<circle cx="552.4" cy="240.7" r="2.5" fill="url(#dotg)"/>
<circle cx="555.2" cy="240.0" r="2.5" fill="url(#dotg)"/>
<circle cx="557.8" cy="240.9" r="3.4" fill="url(#dotg)"/>
<circle cx="561.2" cy="240.7" r="3.2" fill="url(#dotg)"/>
<circle cx="564.8" cy="240.3" r="2.7" fill="url(#dotg)"/>
<circle cx="505.6" cy="167.2" r="3.0" fill="url(#dotg)"/>
<circle cx="506.1" cy="171.6" r="2.8" fill="url(#dotg)"/>
<circle cx="505.9" cy="174.2" r="3.1" fill="url(#dotg)"/>
<circle cx="505.8" cy="177.9" r="3.1" fill="url(#dotg)"/>
<circle cx="505.9" cy="181.3" r="2.3" fill="url(#dotg)"/>
<circle cx="505.6" cy="184.7" r="2.4" fill="url(#dotg)"/>
<circle cx="505.3" cy="186.7" r="3.1" fill="url(#dotg)"/>
<circle cx="505.4" cy="190.6" r="2.7" fill="url(#dotg)"/>
<circle cx="506.5" cy="193.9" r="2.8" fill="url(#dotg)"/>
<circle cx="505.2" cy="197.6" r="3.1" fill="url(#dotg)"/>
<circle cx="506.2" cy="200.9" r="2.9" fill="url(#dotg)"/>
<circle cx="506.3" cy="204.2" r="2.9" fill="url(#dotg)"/>
<circle cx="505.2" cy="207.5" r="3.4" fill="url(#dotg)"/>
<circle cx="505.5" cy="209.4" r="2.6" fill="url(#dotg)"/>
<circle cx="505.4" cy="213.1" r="2.3" fill="url(#dotg)"/>
<circle cx="505.6" cy="215.8" r="2.7" fill="url(#dotg)"/>
<circle cx="505.7" cy="220.2" r="2.7" fill="url(#dotg)"/>
<circle cx="505.5" cy="223.8" r="3.3" fill="url(#dotg)"/>
<circle cx="506.3" cy="225.8" r="2.7" fill="url(#dotg)"/>
<circle cx="505.9" cy="229.4" r="2.2" fill="url(#dotg)"/>
<circle cx="505.9" cy="233.2" r="3.0" fill="url(#dotg)"/>
<circle cx="506.6" cy="236.3" r="3.1" fill="url(#dotg)"/>
<circle cx="511.5" cy="321.9" r="2.8" fill="url(#dotg)"/>
<circle cx="513.5" cy="331.2" r="2.3" fill="url(#dotg)"/>
<circle cx="517.7" cy="340.9" r="2.8" fill="url(#dotg)"/>
<circle cx="510.9" cy="291.3" r="2.4" fill="url(#dotg)"/>
<circle cx="513.0" cy="300.7" r="2.9" fill="url(#dotg)"/>
<circle cx="516.6" cy="309.8" r="2.7" fill="url(#dotg)"/>
<circle cx="520.6" cy="319.1" r="2.6" fill="url(#dotg)"/>
<circle cx="523.5" cy="328.1" r="2.6" fill="url(#dotg)"/>
<circle cx="526.2" cy="336.1" r="2.6" fill="url(#dotg)"/>
<circle cx="530.4" cy="345.4" r="2.5" fill="url(#dotg)"/>
<circle cx="510.0" cy="262.9" r="2.8" fill="url(#dotg)"/>
<circle cx="513.3" cy="270.5" r="2.6" fill="url(#dotg)"/>
<circle cx="515.5" cy="280.3" r="2.3" fill="url(#dotg)"/>
<circle cx="519.8" cy="288.7" r="2.9" fill="url(#dotg)"/>
<circle cx="523.2" cy="298.8" r="2.6" fill="url(#dotg)"/>
<circle cx="526.3" cy="307.8" r="2.3" fill="url(#dotg)"/>
<circle cx="529.3" cy="316.2" r="2.6" fill="url(#dotg)"/>
<circle cx="531.6" cy="324.0" r="2.6" fill="url(#dotg)"/>
<circle cx="536.2" cy="333.4" r="2.4" fill="url(#dotg)"/>
<circle cx="538.8" cy="342.4" r="2.8" fill="url(#dotg)"/>
<circle cx="514.5" cy="250.1" r="2.2" fill="url(#dotg)"/>
<circle cx="517.7" cy="259.9" r="2.9" fill="url(#dotg)"/>
<circle cx="520.9" cy="267.8" r="2.2" fill="url(#dotg)"/>
<circle cx="524.0" cy="276.2" r="3.1" fill="url(#dotg)"/>
<circle cx="527.6" cy="285.2" r="2.3" fill="url(#dotg)"/>
<circle cx="530.5" cy="295.6" r="2.9" fill="url(#dotg)"/>
<circle cx="535.3" cy="304.2" r="2.9" fill="url(#dotg)"/>
<circle cx="537.3" cy="311.8" r="2.4" fill="url(#dotg)"/>
<circle cx="540.1" cy="320.8" r="2.8" fill="url(#dotg)"/>
<circle cx="544.2" cy="329.4" r="2.5" fill="url(#dotg)"/>
<circle cx="548.2" cy="340.0" r="2.9" fill="url(#dotg)"/>
<circle cx="526.8" cy="255.9" r="3.0" fill="url(#dotg)"/>
<circle cx="531.0" cy="264.2" r="2.3" fill="url(#dotg)"/>
<circle cx="532.7" cy="273.7" r="2.4" fill="url(#dotg)"/>
<circle cx="535.9" cy="282.1" r="2.4" fill="url(#dotg)"/>
<circle cx="539.6" cy="291.7" r="2.7" fill="url(#dotg)"/>
<circle cx="543.0" cy="300.8" r="2.4" fill="url(#dotg)"/>
<circle cx="547.5" cy="308.5" r="2.7" fill="url(#dotg)"/>
<circle cx="550.3" cy="318.6" r="2.6" fill="url(#dotg)"/>
<circle cx="553.9" cy="327.4" r="2.8" fill="url(#dotg)"/>
<circle cx="555.6" cy="335.4" r="2.6" fill="url(#dotg)"/>
<circle cx="559.8" cy="344.1" r="2.9" fill="url(#dotg)"/>
<circle cx="537.0" cy="251.5" r="2.6" fill="url(#dotg)"/>
<circle cx="538.9" cy="260.4" r="2.4" fill="url(#dotg)"/>
<circle cx="541.9" cy="270.1" r="3.0" fill="url(#dotg)"/>
<circle cx="545.0" cy="278.9" r="2.8" fill="url(#dotg)"/>
<circle cx="549.3" cy="287.2" r="2.4" fill="url(#dotg)"/>
<circle cx="551.9" cy="297.9" r="2.6" fill="url(#dotg)"/>
<circle cx="555.1" cy="306.0" r="2.6" fill="url(#dotg)"/>
<circle cx="558.1" cy="315.3" r="2.8" fill="url(#dotg)"/>
<circle cx="562.1" cy="323.9" r="2.9" fill="url(#dotg)"/>
<circle cx="566.3" cy="333.0" r="2.2" fill="url(#dotg)"/>
<circle cx="568.6" cy="342.0" r="2.5" fill="url(#dotg)"/>
<circle cx="549.2" cy="258.0" r="2.7" fill="url(#dotg)"/>
<circle cx="552.5" cy="266.7" r="2.8" fill="url(#dotg)"/>
<circle cx="555.7" cy="275.1" r="2.9" fill="url(#dotg)"/>
<circle cx="558.3" cy="285.0" r="2.9" fill="url(#dotg)"/>
<circle cx="562.0" cy="293.1" r="2.6" fill="url(#dotg)"/>
<circle cx="564.8" cy="303.1" r="3.1" fill="url(#dotg)"/>
<circle cx="568.4" cy="312.3" r="2.3" fill="url(#dotg)"/>
<circle cx="570.9" cy="321.4" r="3.1" fill="url(#dotg)"/>
<circle cx="574.8" cy="329.2" r="2.9" fill="url(#dotg)"/>
<circle cx="577.6" cy="338.8" r="2.8" fill="url(#dotg)"/>
<circle cx="558.0" cy="254.8" r="2.5" fill="url(#dotg)"/>
<circle cx="560.0" cy="263.5" r="2.2" fill="url(#dotg)"/>
<circle cx="562.9" cy="272.0" r="2.5" fill="url(#dotg)"/>
<circle cx="567.5" cy="282.5" r="2.5" fill="url(#dotg)"/>
<circle cx="569.7" cy="290.2" r="2.8" fill="url(#dotg)"/>
<circle cx="573.4" cy="298.7" r="2.7" fill="url(#dotg)"/>
<circle cx="576.2" cy="307.7" r="2.9" fill="url(#dotg)"/>
<circle cx="579.2" cy="317.2" r="2.9" fill="url(#dotg)"/>
<circle cx="583.3" cy="327.0" r="2.5" fill="url(#dotg)"/>
<circle cx="587.3" cy="334.3" r="3.0" fill="url(#dotg)"/>
<circle cx="589.5" cy="343.1" r="2.4" fill="url(#dotg)"/>
<circle cx="567.0" cy="251.6" r="2.5" fill="url(#dotg)"/>
<circle cx="569.9" cy="260.0" r="2.6" fill="url(#dotg)"/>
<circle cx="571.8" cy="268.9" r="3.1" fill="url(#dotg)"/>
<circle cx="576.1" cy="278.4" r="2.8" fill="url(#dotg)"/>
<circle cx="579.5" cy="287.4" r="2.5" fill="url(#dotg)"/>
<circle cx="581.7" cy="295.3" r="2.3" fill="url(#dotg)"/>
<circle cx="585.4" cy="304.2" r="2.8" fill="url(#dotg)"/>
<circle cx="588.6" cy="313.6" r="2.5" fill="url(#dotg)"/>
<circle cx="592.1" cy="322.4" r="3.0" fill="url(#dotg)"/>
<circle cx="595.3" cy="331.1" r="2.3" fill="url(#dotg)"/>
<circle cx="599.4" cy="341.0" r="2.5" fill="url(#dotg)"/>
<circle cx="579.2" cy="258.0" r="2.6" fill="url(#dotg)"/>
<circle cx="582.3" cy="265.8" r="3.1" fill="url(#dotg)"/>
<circle cx="584.5" cy="276.0" r="3.0" fill="url(#dotg)"/>
<circle cx="588.9" cy="284.5" r="2.3" fill="url(#dotg)"/>
<circle cx="590.9" cy="293.3" r="3.0" fill="url(#dotg)"/>
<circle cx="594.9" cy="301.0" r="2.5" fill="url(#dotg)"/>
<circle cx="597.5" cy="310.2" r="2.4" fill="url(#dotg)"/>
<circle cx="601.1" cy="319.5" r="2.4" fill="url(#dotg)"/>
<circle cx="604.1" cy="329.6" r="2.7" fill="url(#dotg)"/>
<circle cx="587.2" cy="253.4" r="3.0" fill="url(#dotg)"/>
<circle cx="591.3" cy="262.1" r="2.6" fill="url(#dotg)"/>
<circle cx="593.2" cy="272.2" r="2.5" fill="url(#dotg)"/>
<circle cx="596.6" cy="280.4" r="2.7" fill="url(#dotg)"/>
</g>
<rect x="22" y="347" width="466" height="132" fill="#000" filter="url(#streak)"/>
<g filter="url(#veg)">
<polygon points="188.0,30.0 215.0,26.0 245.0,30.0 250.0,40.0 240.0,48.0 215.0,47.0 195.0,44.0" fill="#5a9018"/>
<polygon points="248.0,40.0 290.0,36.0 330.0,34.0 360.0,38.0 395.0,40.0 398.0,60.0 396.0,90.0 392.0,108.0 375.0,112.0 345.0,105.0 320.0,98.0 295.0,90.0 270.0,78.0 255.0,62.0" fill="#5e8410"/>
<polygon points="330.0,70.0 370.0,68.0 390.0,80.0 385.0,100.0 360.0,102.0 335.0,90.0" fill="#8a8e10"/>
<polygon points="405.0,58.0 440.0,55.0 470.0,60.0 475.0,75.0 472.0,92.0 450.0,95.0 420.0,92.0 404.0,80.0" fill="#9c5618"/>
<polygon points="400.0,70.0 412.0,66.0 415.0,90.0 402.0,92.0" fill="#8a9020"/>
</g>
<polygon points="555.8,161.0 569.5,163.0 569.5,168.0 555.8,166.0" fill="#0a6a30" opacity="0.7"/>
<polygon points="555.8,158.0 569.5,160.0 569.5,163.5 555.8,161.5" fill="#30e858" opacity="0.8"/>
<polygon points="561.0,169.4 572.1,171.4 572.1,176.4 561.0,174.4" fill="#0a6a30" opacity="0.7"/>
<polygon points="561.0,166.4 572.1,168.4 572.1,171.9 561.0,169.9" fill="#30e858" opacity="0.8"/>
<polygon points="565.0,179.1 575.1,181.1 575.1,186.1 565.0,184.1" fill="#0a6a30" opacity="0.7"/>
<polygon points="565.0,176.1 575.1,178.1 575.1,181.6 565.0,179.6" fill="#30e858" opacity="0.8"/>
<polygon points="560.6,187.9 577.8,189.9 577.8,194.9 560.6,192.9" fill="#0a6a30" opacity="0.7"/>
<polygon points="560.6,184.9 577.8,186.9 577.8,190.4 560.6,188.4" fill="#30e858" opacity="0.8"/>
<polygon points="565.7,195.6 580.1,197.6 580.1,202.6 565.7,200.6" fill="#0a6a30" opacity="0.7"/>
<polygon points="565.7,192.6 580.1,194.6 580.1,198.1 565.7,196.1" fill="#30e858" opacity="0.8"/>
<polygon points="572.5,204.6 582.8,206.6 582.8,211.6 572.5,209.6" fill="#0a6a30" opacity="0.7"/>
<polygon points="572.5,201.6 582.8,203.6 582.8,207.1 572.5,205.1" fill="#30e858" opacity="0.8"/>
<polygon points="569.7,213.0 585.3,215.0 585.3,220.0 569.7,218.0" fill="#0a6a30" opacity="0.7"/>
<polygon points="569.7,210.0 585.3,212.0 585.3,215.5 569.7,213.5" fill="#30e858" opacity="0.8"/>
<polygon points="572.2,221.7 588.0,223.7 588.0,228.7 572.2,226.7" fill="#0a6a30" opacity="0.7"/>
<polygon points="572.2,218.7 588.0,220.7 588.0,224.2 572.2,222.2" fill="#30e858" opacity="0.8"/>
<polygon points="578.5,229.6 590.4,231.6 590.4,236.6 578.5,234.6" fill="#0a6a30" opacity="0.7"/>
<polygon points="578.5,226.6 590.4,228.6 590.4,232.1 578.5,230.1" fill="#30e858" opacity="0.8"/>
<polygon points="578.7,237.3 592.8,239.3 592.8,244.3 578.7,242.3" fill="#0a6a30" opacity="0.7"/>
<polygon points="578.7,234.3 592.8,236.3 592.8,239.8 578.7,237.8" fill="#30e858" opacity="0.8"/>
<polygon points="581.1,247.2 595.8,249.2 595.8,254.2 581.1,252.2" fill="#0a6a30" opacity="0.7"/>
<polygon points="581.1,244.2 595.8,246.2 595.8,249.7 581.1,247.7" fill="#30e858" opacity="0.8"/>
<polygon points="585.2,256.6 598.2,258.6 598.2,263.6 585.2,261.6" fill="#0a6a30" opacity="0.7"/>
<polygon points="585.2,253.6 598.2,255.6 598.2,259.1 585.2,257.1" fill="#30e858" opacity="0.8"/>
<polygon points="589.6,266.0 600.4,268.0 600.4,273.0 589.6,271.0" fill="#0a6a30" opacity="0.7"/>
<polygon points="589.6,263.0 600.4,265.0 600.4,268.5 589.6,266.5" fill="#30e858" opacity="0.8"/>
<polygon points="586.9,274.2 602.3,276.2 602.3,281.2 586.9,279.2" fill="#0a6a30" opacity="0.7"/>
<polygon points="586.9,271.2 602.3,273.2 602.3,276.7 586.9,274.7" fill="#30e858" opacity="0.8"/>
<polygon points="591.1,283.5 604.4,285.5 604.4,290.5 591.1,288.5" fill="#0a6a30" opacity="0.7"/>
<polygon points="591.1,280.5 604.4,282.5 604.4,286.0 591.1,284.0" fill="#30e858" opacity="0.8"/>
<polygon points="594.4,291.2 606.5,293.2 606.5,298.2 594.4,296.2" fill="#0a6a30" opacity="0.7"/>
<polygon points="594.4,288.2 606.5,290.2 606.5,293.7 594.4,291.7" fill="#30e858" opacity="0.8"/>
<polygon points="596.5,299.2 608.7,301.2 608.7,306.2 596.5,304.2" fill="#0a6a30" opacity="0.7"/>
<polygon points="596.5,296.2 608.7,298.2 608.7,301.7 596.5,299.7" fill="#30e858" opacity="0.8"/>
<polygon points="599.8,308.8 611.4,310.8 611.4,315.8 599.8,313.8" fill="#0a6a30" opacity="0.7"/>
<polygon points="599.8,305.8 611.4,307.8 611.4,311.3 599.8,309.3" fill="#30e858" opacity="0.8"/>
<polygon points="597.0,318.5 614.0,320.5 614.0,325.5 597.0,323.5" fill="#0a6a30" opacity="0.7"/>
<polygon points="597.0,315.5 614.0,317.5 614.0,321.0 597.0,319.0" fill="#30e858" opacity="0.8"/>
<polygon points="603.1,326.1 616.2,328.1 616.2,333.1 603.1,331.1" fill="#0a6a30" opacity="0.7"/>
<polygon points="603.1,323.1 616.2,325.1 616.2,328.6 603.1,326.6" fill="#30e858" opacity="0.8"/>
<polygon points="608.8,334.9 619.0,336.9 619.0,341.9 608.8,339.9" fill="#0a6a30" opacity="0.7"/>
<polygon points="608.8,331.9 619.0,333.9 619.0,337.4 608.8,335.4" fill="#30e858" opacity="0.8"/>
<polygon points="601.7,343.4 619.0,345.4 619.0,350.4 601.7,348.4" fill="#0a6a30" opacity="0.7"/>
<polygon points="601.7,340.4 619.0,342.4 619.0,345.9 601.7,343.9" fill="#30e858" opacity="0.8"/>
<polygon points="604.2,351.2 619.0,353.2 619.0,358.2 604.2,356.2" fill="#0a6a30" opacity="0.7"/>
<polygon points="604.2,348.2 619.0,350.2 619.0,353.7 604.2,351.7" fill="#30e858" opacity="0.8"/>
<polygon points="604.4,359.0 619.0,361.0 619.0,366.0 604.4,364.0" fill="#0a6a30" opacity="0.7"/>
<polygon points="604.4,356.0 619.0,358.0 619.0,361.5 604.4,359.5" fill="#30e858" opacity="0.8"/>
<polygon points="607.4,368.7 619.0,370.7 619.0,375.7 607.4,373.7" fill="#0a6a30" opacity="0.7"/>
<polygon points="607.4,365.7 619.0,367.7 619.0,371.2 607.4,369.2" fill="#30e858" opacity="0.8"/>
</g>
<rect x="363.7" y="151.9" width="2.9" height="15.5" fill="#fbec00"/>
<circle cx="365.1" cy="151.9" r="5.3" fill="#ffee00"/>
<rect x="377.1" y="164.2" width="2.9" height="15.3" fill="#fbec00"/>
<circle cx="378.5" cy="164.2" r="5.3" fill="#ffee00"/>
<rect x="513.3" y="206.8" width="2.9" height="15.5" fill="#fbec00"/>
<circle cx="514.8" cy="206.8" r="5.3" fill="#ffee00"/>
<rect x="276.6" y="246.0" width="2.9" height="15.6" fill="#fbec00"/>
<circle cx="278.0" cy="246.0" r="5.3" fill="#ffee00"/>
<rect x="243.7" y="262.1" width="2.9" height="15.6" fill="#fbec00"/>
<circle cx="245.1" cy="262.1" r="5.3" fill="#ffee00"/>
<rect x="364.9" y="260.8" width="2.9" height="14.7" fill="#fbec00"/>
<circle cx="366.4" cy="260.8" r="5.3" fill="#ffee00"/>
<rect x="241.0" y="311.7" width="2.9" height="15.3" fill="#fbec00"/>
<circle cx="242.4" cy="311.7" r="5.3" fill="#ffee00"/>
<rect x="303.9" y="306.3" width="2.9" height="16.1" fill="#fbec00"/>
<circle cx="305.4" cy="306.3" r="5.3" fill="#ffee00"/>
<rect x="540.9" y="303.7" width="2.9" height="14.7" fill="#fbec00"/>
<circle cx="542.4" cy="303.7" r="5.3" fill="#ffee00"/>
<g filter="url(#jag)">
<polygon points="690.5,402 699,401 708,404 712,412 712,420 690.5,420" fill="#808000"/>
<polygon points="1205,421 1206,406 1212,400 1217,408 1222,398 1230,393 1238,402 1240,418" fill="#808000"/>
<polygon points="1252,421 1254,400 1262,394 1270,398 1280,402 1290,397 1300,399 1312,396 1322,398 1322,421" fill="#808000"/>
<polyline points="717.9,418.5 720.3,352.6 722.6,305.6 725.0,277.4 729.7,282.1 734.4,305.6 737.9,329.1 740.3,376.2 741.5,418.5 743.8,376.2 746.6,324.4 753.2,319.7 757.9,340.9 760.3,376.2 762.6,333.8" fill="none" stroke="#808000" stroke-width="10" stroke-linejoin="round" stroke-linecap="round"/>
<polyline points="762.6,333.8 772.1,324.4 781.5,305.6 788.5,286.8 797.9,296.2 805.0,282.1 812.1,286.8 821.5,282.1 830.9,296.2 837.9,317.4 845.0,340.9 849.7,371.5 850.4,406.8 856.8,380.9 866.2,329.1 875.6,324.4 885.0,329.1 896.8,340.9 908.5,352.6 917.9,371.5 922.6,399.7 927.4,418.5 934.4,376.2 943.8,359.7 955.6,347.9 965.0,333.8 972.1,305.6 976.8,310.3 981.5,333.8 988.5,347.9 997.9,324.4 1005.0,319.7 1005.0,324.4 1014.4,319.7 1026.2,326.8 1035.6,336.2 1045.0,357.4 1052.1,336.2 1057.9,324.4 1062.6,338.5 1070.9,352.6 1080.3,366.8 1087.4,385.6 1092.1,418.5 1097.9,385.6 1103.8,399.7 1108.5,418.5 1113.2,395.0 1120.3,371.5 1127.4,385.6 1136.8,369.1 1146.2,366.8 1155.6,376.2 1165.0,390.3 1172.1,352.6 1176.8,329.1 1183.8,343.2 1190.9,371.5 1195.6,366.8 1200.3,357.4 1202.6,376.2" fill="none" stroke="#808000" stroke-width="19" stroke-linejoin="round" stroke-linecap="round"/>
<polygon points="741.0,311.0 745.6,304.0 751.0,313.0 756.0,314.0 761.0,306.0 767.0,298.0 772.0,285.0 779.0,275.0 786.0,269.0 791.0,273.0 797.0,281.0 801.0,279.0 805.0,272.0 809.0,266.0 813.0,262.0 818.0,266.0 822.0,272.0 827.0,270.0 832.0,266.0 838.0,270.0 843.0,278.0 843.0,296.0 838.0,292.0 832.0,292.0 826.0,300.0 820.0,306.0 815.0,300.0 809.0,297.0 805.0,300.0 800.0,312.0 795.0,320.0 790.0,335.0 786.0,342.0 779.0,345.0 771.0,343.0 764.0,348.0 758.0,352.0 752.0,345.0" fill="#808000"/>
<polyline points="707.4,422.1 708.5,360.9 710.9,290.3 713.2,243.2 716.8,184.4 722.6,139.7 727.4,158.5 732.1,186.8 735.6,203.2 740.3,175.0 745.0,193.8 749.7,240.9 755.6,207.9 762.6,172.6 768.5,193.8 774.4,224.4 779.1,257.4 786.2,200.9 792.1,224.4 797.9,245.6 803.8,229.1 809.7,212.6 813.2,313.8 819.1,266.8 826.2,266.8 833.2,196.2 839.1,182.1 847.4,205.6" fill="none" stroke="#00ff00" stroke-width="11" stroke-linejoin="round" stroke-linecap="round"/>
<polyline points="847.4,205.6 854.4,243.2 861.5,309.1 870.9,233.8 880.3,200.9 889.7,182.1 896.8,186.8 903.8,224.4 910.9,304.4 920.3,257.4 927.4,233.8 930.9,280.9 939.1,262.1 943.8,276.2 950.9,224.4 955.6,200.9 962.6,233.8 972.1,356.2 981.5,302.1 988.5,276.2 995.6,252.6 1001.5,233.8 1005.0,233.8 1010.9,210.3 1015.6,243.2 1028.5,311.5 1033.2,257.4 1040.3,271.5 1055.6,344.4 1066.2,290.3 1075.6,266.8 1083.8,219.7 1089.7,243.2 1099.1,285.6 1107.4,342.1 1117.9,278.5 1126.2,231.5 1134.4,266.8 1146.2,313.8 1150.9,349.1 1157.9,290.3 1165.0,269.1 1172.1,313.8 1176.8,337.4 1183.8,290.3 1188.5,262.1 1197.9,337.4 1205.0,400.9 1212.1,313.8 1219.1,266.8 1226.2,243.2 1233.2,290.3 1242.6,377.4 1249.7,313.8 1255.6,280.9 1259.1,337.4 1266.2,262.1 1273.2,313.8 1280.3,360.9 1289.7,389.1 1299.1,403.2 1306.2,407.9 1310.9,396.2 1315.6,349.1 1320.3,302.1 1323.1,278.5" fill="none" stroke="#00ff00" stroke-width="14" stroke-linejoin="round" stroke-linecap="round"/>
<polygon points="700.5,402.0 701.5,360.0 702.5,300.0 703.5,265.0 703.8,247.9 706.2,207.9 708.5,160.9 710.9,125.6 714.4,92.6 717.9,85.6 723.8,79.7 728.5,93.8 732.1,98.5 737.9,87.9 742.6,73.8 748.5,65.6 760.3,65.6 763.8,83.2 768.5,77.4 772.1,87.9 777.9,104.4 783.8,97.4 789.7,89.1 795.6,85.6 800.3,90.3 805.0,104.4 812.1,109.1 816.8,120.9 821.5,132.6 826.2,139.7 830.9,149.1 835.6,165.6 840.3,172.6 845.0,167.9 849.7,175.0 854.4,172.6 861.5,170.3 868.5,165.6 875.6,156.2 885.0,146.8 889.7,158.5 896.8,165.6 903.8,170.3 910.9,172.6 916.8,186.8 922.6,177.4 929.7,163.2 934.4,172.6 939.1,186.8 946.2,182.1 953.2,177.4 960.3,158.5 967.4,163.2 974.4,158.5 980.3,146.8 986.2,143.2 993.2,145.6 1000.3,144.4 1005.0,143.2 1008.5,146.8 1012.1,158.5 1017.9,163.2 1022.6,165.6 1026.2,165.6 1030.9,149.1 1034.4,142.1 1040.3,136.2 1045.0,139.7 1048.5,144.4 1054.4,130.3 1060.3,126.8 1063.8,136.2 1067.4,140.9 1072.1,149.1 1075.6,165.6 1080.3,179.7 1086.2,186.8 1092.1,182.1 1097.9,177.4 1103.8,177.4 1109.7,163.2 1113.2,158.5 1117.9,163.2 1122.6,162.1 1127.4,165.6 1133.2,172.6 1137.9,179.7 1142.6,177.4 1148.5,167.9 1154.4,153.8 1159.1,132.6 1165.0,130.3 1172.1,127.9 1179.1,116.2 1183.8,127.9 1190.9,130.3 1197.9,127.9 1205.0,130.3 1212.1,130.3 1215.6,118.5 1222.6,111.5 1228.5,120.9 1232.1,132.6 1236.8,151.5 1240.3,149.1 1245.0,137.4 1249.7,144.4 1254.4,163.2 1261.5,163.2 1266.2,170.3 1269.7,196.2 1270.9,255.0 1272.0,300.0 1275.0,350.0 1278.5,402.0 1282.0,404.0 1281.0,370.0 1278.0,320.0 1275.0,280.0 1273.0,255.0 1266.2,255.0 1263.8,224.4 1260.3,219.7 1257.9,250.3 1254.4,238.5 1250.9,215.0 1248.5,191.5 1246.2,175.0 1242.6,167.9 1237.9,175.0 1234.4,167.9 1230.9,153.8 1226.2,146.8 1219.1,149.1 1212.1,151.5 1207.4,160.9 1203.8,158.5 1200.3,151.5 1195.6,151.5 1188.5,156.2 1183.8,153.8 1179.1,156.2 1174.4,149.1 1167.4,149.1 1162.6,153.8 1159.1,170.3 1155.6,186.8 1150.9,196.2 1147.4,205.6 1142.6,198.5 1136.8,200.9 1129.7,198.5 1123.8,193.8 1119.1,191.5 1114.4,189.1 1108.5,191.5 1103.8,196.2 1099.1,205.6 1094.4,203.2 1088.5,207.9 1082.6,210.3 1075.6,212.6 1073.2,205.6 1070.9,191.5 1067.4,165.6 1061.5,163.2 1055.6,160.9 1049.7,165.6 1045.0,160.9 1037.9,165.6 1033.2,177.4 1029.7,189.1 1025.0,205.6 1020.3,196.2 1016.8,186.8 1012.1,170.3 1007.4,165.6 1005.0,163.2 1000.3,165.6 993.2,186.8 990.9,193.8 987.4,182.1 981.5,179.7 974.4,186.8 967.4,205.6 962.6,200.9 955.6,196.2 946.2,203.2 941.5,215.0 934.4,200.9 929.7,186.8 925.0,193.8 920.3,215.0 916.8,224.4 913.2,207.9 908.5,191.5 901.5,186.8 892.1,177.4 885.0,175.0 877.9,186.8 870.9,193.8 863.8,198.5 859.1,205.6 854.4,193.8 847.4,191.5 842.6,210.3 840.3,219.7 835.6,200.9 833.2,175.0 828.5,167.9 823.8,156.2 819.1,149.1 814.4,132.6 809.7,120.9 802.6,113.8 795.6,113.8 788.5,113.8 783.8,125.6 779.1,144.4 775.6,139.7 772.1,125.6 767.4,113.8 762.6,111.5 755.6,113.8 748.5,117.4 742.6,113.8 736.8,111.5 730.9,119.7 725.0,113.8 720.3,107.9 717.9,116.2 716.8,132.6 715.1,172.6 713.2,219.7 712.1,250.3 712.0,265.0 711.0,300.0 709.0,360.0 706.0,402.0" fill="#008000"/>
<polygon points="1302.0,375.0 1306.0,345.0 1310.0,315.0 1314.0,285.0 1318.0,255.0 1320.0,225.0 1323.0,219.0 1323.0,262.0 1320.0,300.0 1316.0,338.0 1311.0,372.0 1307.0,392.0" fill="#008000"/>
<circle cx="693" cy="417" r="2.5" fill="#a9a9a9"/>
<circle cx="698" cy="419" r="2.5" fill="#a9a9a9"/>
<circle cx="704" cy="416" r="2.5" fill="#a9a9a9"/>
<circle cx="709" cy="418" r="2.5" fill="#a9a9a9"/>
<circle cx="737" cy="418" r="2.5" fill="#a9a9a9"/>
<circle cx="1208" cy="420" r="2.5" fill="#a9a9a9"/>
<circle cx="1214" cy="418" r="2.5" fill="#a9a9a9"/>
<circle cx="1222" cy="419" r="2.5" fill="#a9a9a9"/>
<circle cx="1228" cy="417" r="2.5" fill="#a9a9a9"/>
<circle cx="1234" cy="419" r="2.5" fill="#a9a9a9"/>
<circle cx="1262" cy="419" r="2.5" fill="#a9a9a9"/>
<circle cx="1270" cy="417" r="2.5" fill="#a9a9a9"/>
<polygon points="690.5,420 700,418 710,419 716.5,421 716,432 690.5,432" fill="#8b4513"/>
<polygon points="735.5,420 738.5,420 738,426 736,426" fill="#8b4513"/>
<polygon points="925,419 929,418 929.5,423 927,425 924.5,423" fill="#8b4513"/>
<polygon points="1084,421 1096,420 1097,431 1084,431" fill="#8b4513"/>
<polygon points="1103,420 1113,420 1113,431 1103,431" fill="#8b4513"/>
<polygon points="1204,424 1215,422 1230,424 1245,423 1252,420 1265,418 1280,420 1295,417 1310,419 1322,418 1322,432 1204,432" fill="#8b4513"/>
</g>
<line x1="690.5" y1="429.4" x2="1322.0" y2="429.4" stroke="#484848" stroke-width="1.9" stroke-dasharray="10.8 8 3.5 7.1"/>
<line x1="1318.0" y1="429.4" x2="1322.0" y2="429.4" stroke="#484848" stroke-width="1.9"/>
<line x1="690.5" y1="387.0" x2="1322.0" y2="387.0" stroke="#484848" stroke-width="1.9" stroke-dasharray="10.8 8 3.5 7.1"/>
<line x1="1318.0" y1="387.0" x2="1322.0" y2="387.0" stroke="#484848" stroke-width="1.9"/>
<line x1="690.5" y1="344.6" x2="1322.0" y2="344.6" stroke="#484848" stroke-width="1.9" stroke-dasharray="10.8 8 3.5 7.1"/>
<line x1="1318.0" y1="344.6" x2="1322.0" y2="344.6" stroke="#484848" stroke-width="1.9"/>
<line x1="690.5" y1="302.2" x2="1322.0" y2="302.2" stroke="#484848" stroke-width="1.9" stroke-dasharray="10.8 8 3.5 7.1"/>
<line x1="1318.0" y1="302.2" x2="1322.0" y2="302.2" stroke="#484848" stroke-width="1.9"/>
<line x1="690.5" y1="259.8" x2="1322.0" y2="259.8" stroke="#484848" stroke-width="1.9" stroke-dasharray="10.8 8 3.5 7.1"/>
<line x1="1318.0" y1="259.8" x2="1322.0" y2="259.8" stroke="#484848" stroke-width="1.9"/>
<line x1="690.5" y1="217.3" x2="1322.0" y2="217.3" stroke="#484848" stroke-width="1.9" stroke-dasharray="10.8 8 3.5 7.1"/>
<line x1="1318.0" y1="217.3" x2="1322.0" y2="217.3" stroke="#484848" stroke-width="1.9"/>
<line x1="690.5" y1="174.9" x2="1322.0" y2="174.9" stroke="#484848" stroke-width="1.9" stroke-dasharray="10.8 8 3.5 7.1"/>
<line x1="1318.0" y1="174.9" x2="1322.0" y2="174.9" stroke="#484848" stroke-width="1.9"/>
<line x1="690.5" y1="132.5" x2="1322.0" y2="132.5" stroke="#484848" stroke-width="1.9" stroke-dasharray="10.8 8 3.5 7.1"/>
<line x1="1318.0" y1="132.5" x2="1322.0" y2="132.5" stroke="#484848" stroke-width="1.9"/>
<line x1="690.5" y1="90.1" x2="1322.0" y2="90.1" stroke="#484848" stroke-width="1.9" stroke-dasharray="10.8 8 3.5 7.1"/>
<line x1="1318.0" y1="90.1" x2="1322.0" y2="90.1" stroke="#484848" stroke-width="1.9"/>
<g filter="url(#jagc)">
<linearGradient id="cg0l" gradientUnits="userSpaceOnUse" x1="0" y1="760" x2="0" y2="580"><stop offset="0" stop-color="#17221a"/><stop offset="0.156" stop-color="#17221a"/><stop offset="0.211" stop-color="#6f7866"/><stop offset="1" stop-color="#6f7866"/></linearGradient>
<linearGradient id="cg0r" gradientUnits="userSpaceOnUse" x1="0" y1="760" x2="0" y2="580"><stop offset="0" stop-color="#17221a"/><stop offset="0.206" stop-color="#17221a"/><stop offset="0.289" stop-color="#848d75"/><stop offset="1" stop-color="#848d75"/></linearGradient>
<polygon points="123.7,731.6 126.8,716.0 134.6,700.5 142.3,678.8 153.2,653.9 167.2,625.9 178.1,598.0 184.3,588.6 188.0,585.0 190.5,586.0 184.3,601.0 175.0,625.9 164.1,653.9 153.2,678.8 145.5,700.5 136.1,716.0 133.0,731.6" fill="url(#cg0l)"/>
<polygon points="188.0,586.0 195.0,600.0 203.0,632.0 221.6,679.0 234.0,710.0 240.0,724.0 247.5,724.0 243.3,710.0 232.5,679.0 213.8,632.0 203.0,598.0 194.0,584.5" fill="url(#cg0r)"/>
<polygon points="124.0,731.0 133.0,731.0 133.5,790.0 134.0,845.0 131.0,850.7 120.0,850.7 124.5,846.0 125.0,800.0 124.2,760.0" fill="#17221a"/>
<polygon points="240.2,722.0 247.0,722.0 249.5,760.0 250.5,800.0 251.5,842.0 254.0,846.0 246.0,846.0 242.0,840.0 241.2,800.0 240.5,760.0" fill="#17221a"/>
<ellipse cx="187.5" cy="589" rx="4" ry="5" transform="rotate(25 187.5 589)" fill="#c0a0a0" opacity="0.9"/>
<linearGradient id="cg1l" gradientUnits="userSpaceOnUse" x1="0" y1="760" x2="0" y2="580"><stop offset="0" stop-color="#17221a"/><stop offset="0.133" stop-color="#17221a"/><stop offset="0.189" stop-color="#8b907c"/><stop offset="1" stop-color="#8b907c"/></linearGradient>
<linearGradient id="cg1r" gradientUnits="userSpaceOnUse" x1="0" y1="760" x2="0" y2="580"><stop offset="0" stop-color="#17221a"/><stop offset="0.239" stop-color="#17221a"/><stop offset="0.322" stop-color="#969883"/><stop offset="1" stop-color="#969883"/></linearGradient>
<polygon points="297.5,735.0 300.2,731.6 304.9,713.0 314.2,694.3 326.6,663.2 342.2,625.9 351.5,601.0 357.7,591.8 361.0,587.0 364.5,588.0 363.9,591.8 359.2,604.2 349.9,629.0 335.9,663.2 323.5,694.3 314.2,713.0 309.5,731.6 308.3,735.0" fill="url(#cg1l)"/>
<polygon points="365.5,584.0 379.4,616.6 395.0,653.9 410.5,694.3 415.2,716.0 415.2,722.0 426.0,722.0 423.0,713.0 418.3,694.3 402.7,653.9 387.2,616.6 373.2,584.0 371.0,583.0" fill="url(#cg1r)"/>
<polygon points="297.5,735.0 308.3,735.0 308.6,790.0 308.5,843.0 304.0,850.7 292.0,850.7 297.5,845.0 298.0,800.0 297.2,760.0" fill="#17221a"/>
<polygon points="415.2,716.0 423.0,716.0 426.0,760.0 427.5,800.0 429.5,840.0 428.0,846.0 416.0,846.0 415.5,800.0 416.0,760.0" fill="#17221a"/>
<ellipse cx="359" cy="592" rx="4" ry="7" transform="rotate(25 359 592)" fill="#d4dcf0" opacity="0.9"/>
<linearGradient id="cg2l" gradientUnits="userSpaceOnUse" x1="0" y1="760" x2="0" y2="580"><stop offset="0" stop-color="#17221a"/><stop offset="0.206" stop-color="#17221a"/><stop offset="0.261" stop-color="#adad95"/><stop offset="1" stop-color="#adad95"/></linearGradient>
<linearGradient id="cg2r" gradientUnits="userSpaceOnUse" x1="0" y1="760" x2="0" y2="580"><stop offset="0" stop-color="#17221a"/><stop offset="0.272" stop-color="#17221a"/><stop offset="0.356" stop-color="#c0bfa7"/><stop offset="1" stop-color="#c0bfa7"/></linearGradient>
<polygon points="471.5,727.0 474.2,725.4 486.6,694.3 502.2,660.1 517.7,619.7 530.1,591.8 533.0,586.0 539.4,587.0 537.0,592.0 527.0,625.9 511.5,666.3 497.5,700.5 486.6,725.4 484.0,724.0" fill="url(#cg2l)"/>
<polygon points="539.4,585.5 558.1,622.8 573.6,660.1 586.0,694.3 592.3,713.0 600.5,713.0 596.9,700.5 586.0,666.3 570.5,629.0 551.9,588.6 545.0,584.5" fill="url(#cg2r)"/>
<polygon points="471.5,722.0 484.0,722.0 484.0,790.0 485.5,840.0 483.0,850.7 468.0,846.0 470.0,835.0 472.5,800.0 471.5,760.0" fill="#17221a"/>
<polygon points="592.3,710.0 600.5,710.0 601.5,760.0 600.5,800.0 601.5,840.0 604.0,846.0 593.0,846.0 594.0,800.0 593.0,760.0" fill="#17221a"/>
<ellipse cx="534" cy="590.5" rx="3.6" ry="6" transform="rotate(25 534 590.5)" fill="#8a5040" opacity="0.9"/>
<rect x="75.8" y="846" width="55.2" height="4.6" rx="2" fill="#17221a"/>
<rect x="246" y="846" width="54" height="4.6" rx="2" fill="#17221a"/>
<rect x="426" y="846" width="47" height="4.6" rx="2" fill="#17221a"/>
<rect x="596" y="846" width="24" height="4.6" rx="2" fill="#17221a"/>
</g>
<g filter="url(#spk)">
<polygon points="805.6,594.0 802.0,606.0 797.0,616.0 790.0,625.0 788.0,640.0 783.0,650.0 787.0,660.0 779.0,675.0 782.0,690.0 777.0,705.0 780.0,720.0 785.0,735.0 779.0,748.0 772.0,765.0 775.0,780.0 768.0,795.0 752.0,806.0 749.0,815.0 756.0,826.0 758.0,838.0 760.0,846.0 795.0,846.0 800.0,838.0 806.0,838.0 812.0,846.0 848.0,846.0 846.0,832.0 840.0,820.0 834.0,805.0 832.0,790.0 828.0,770.0 831.0,755.0 822.0,740.0 833.0,725.0 835.0,712.0 826.0,700.0 830.0,690.0 822.0,675.0 828.0,660.0 820.0,645.0 822.0,630.0 817.0,615.0 811.0,605.0" fill="#000"/>
<polygon points="876.5,744.0 872.0,756.0 868.0,770.0 865.0,785.0 857.0,798.0 850.0,810.0 848.0,822.0 852.0,834.0 853.0,846.0 900.0,846.0 897.0,830.0 893.0,815.0 890.0,800.0 886.0,785.0 884.0,770.0 881.0,756.0" fill="#000"/>
<polygon points="998.0,565.0 993.0,578.0 991.0,590.0 982.0,598.0 983.0,610.0 979.0,625.0 974.0,640.0 976.0,650.0 966.0,665.0 967.0,680.0 971.0,690.0 968.0,700.0 972.0,712.0 975.0,725.0 970.0,740.0 974.0,760.0 970.0,780.0 972.0,800.0 969.0,815.0 972.0,830.0 970.0,846.0 1020.0,846.0 1018.0,830.0 1021.0,815.0 1016.0,800.0 1020.0,785.0 1017.0,775.0 1020.0,760.0 1015.0,745.0 1026.0,732.0 1022.0,722.0 1033.0,707.0 1025.0,700.0 1019.0,690.0 1024.0,678.0 1018.0,665.0 1022.0,650.0 1015.0,635.0 1012.0,620.0 1010.0,605.0 1006.0,592.0 1005.0,580.0" fill="#000"/>
</g>
<g filter="url(#spk2)">
<polygon points="1262.0,575.0 1257.0,590.0 1253.0,605.0 1245.0,617.0 1246.0,630.0 1242.0,645.0 1240.0,660.0 1238.0,675.0 1228.0,690.0 1226.0,705.0 1232.0,720.0 1229.0,740.0 1234.0,760.0 1230.0,780.0 1227.0,800.0 1224.0,820.0 1228.0,835.0 1230.0,846.0 1285.0,846.0 1282.0,830.0 1278.0,815.0 1280.0,800.0 1286.0,785.0 1291.0,765.0 1288.0,750.0 1290.0,735.0 1297.0,712.0 1292.0,705.0 1290.0,690.0 1290.0,670.0 1286.0,655.0 1290.0,640.0 1285.0,628.0 1281.0,612.0 1274.0,598.0 1268.0,585.0" fill="#000"/>
</g>
<g filter="url(#spkd)">
<path d="M736,846 Q736,838 741,838 Q746,838 746,846 Z" fill="#000"/>
<path d="M752,846 Q752,842 756,842 Q760,842 760,846 Z" fill="#000"/>
<path d="M771,846 Q771,843 775,843 Q779,843 779,846 Z" fill="#000"/>
<polygon points="904,820 907,846 901,846" fill="#000"/>
<path d="M906,846 Q906,840 912,840 Q918,840 918,846 Z" fill="#000"/>
<path d="M918,846 Q918,837 925,837 Q932,837 932,846 Z" fill="#000"/>
<path d="M935,846 Q935,838 941,838 Q947,838 947,846 Z" fill="#000"/>
<path d="M951,846 Q951,840 958,840 Q965,840 965,846 Z" fill="#000"/>
<path d="M969,846 Q969,842 975,842 Q981,842 981,846 Z" fill="#000"/>
<path d="M987,846 Q987,842 992,842 Q997,842 997,846 Z" fill="#000"/>
<path d="M1026,846 Q1026,841 1031,841 Q1036,841 1036,846 Z" fill="#000"/>
<polygon points="1043,824 1050,846 1036,846" fill="#000"/>
<path d="M1051,846 Q1051,841 1056,841 Q1061,841 1061,846 Z" fill="#000"/>
<path d="M1058,846 Q1058,836 1067,836 Q1076,836 1076,846 Z" fill="#000"/>
<path d="M1077,846 Q1077,837 1086,837 Q1095,837 1095,846 Z" fill="#000"/>
<path d="M1092,846 Q1092,839 1097,839 Q1102,839 1102,846 Z" fill="#000"/>
<path d="M1104,846 Q1104,839 1110,839 Q1116,839 1116,846 Z" fill="#000"/>
<path d="M1117,846 Q1117,840 1124,840 Q1131,840 1131,846 Z" fill="#000"/>
<path d="M1132,846 Q1132,840 1138,840 Q1144,840 1144,846 Z" fill="#000"/>
<path d="M1145,846 Q1145,839 1152,839 Q1159,839 1159,846 Z" fill="#000"/>
<path d="M1160,846 Q1160,840 1166,840 Q1172,840 1172,846 Z" fill="#000"/>
<path d="M1173,846 Q1173,840 1180,840 Q1187,840 1187,846 Z" fill="#000"/>
<path d="M1188,846 Q1188,839 1194,839 Q1200,839 1200,846 Z" fill="#000"/>
<path d="M1201,846 Q1201,840 1207,840 Q1213,840 1213,846 Z" fill="#000"/>
<path d="M1214,846 Q1214,841 1220,841 Q1226,841 1226,846 Z" fill="#000"/>
<path d="M1231,846 Q1231,842 1236,842 Q1241,842 1241,846 Z" fill="#000"/>
<path d="M1284,846 Q1284,840 1290,840 Q1296,840 1296,846 Z" fill="#000"/>
<path d="M1297,846 Q1297,840 1303,840 Q1309,840 1309,846 Z" fill="#000"/>
</g>
<polygon points="729.5,845.5 732.1,845.7 734.8,846.3 736.4,845.0 739.6,845.5 741.6,847.0 744.0,846.7 746.5,846.3 748.3,846.3 751.5,846.0 754.5,846.3 756.1,846.5 758.8,845.6 760.4,846.7 762.8,846.4 766.1,846.4 769.4,845.8 772.5,845.9 775.9,846.8 777.6,845.3 779.5,846.9 781.9,846.3 784.0,846.0 786.2,845.7 788.9,846.2 792.2,846.4 795.6,846.7 799.1,846.3 800.9,846.7 804.3,846.8 807.0,846.4 808.9,846.7 811.5,845.6 813.2,846.7 816.6,845.2 819.7,845.8 821.5,845.6 824.6,846.7 826.2,846.2 827.8,846.4 829.9,846.8 833.4,846.0 836.9,845.6 838.5,846.2 840.1,845.4 842.4,846.2 844.2,845.1 847.5,845.6 850.9,846.8 853.1,845.9 855.7,846.3 858.4,846.1 861.1,846.9 863.6,845.9 866.6,845.5 868.7,847.0 871.2,846.1 872.7,845.8 875.4,845.0 878.1,846.3 879.7,846.3 882.2,846.4 884.4,846.4 887.3,845.0 889.0,846.4 892.4,845.5 894.8,846.2 896.9,845.7 899.1,845.7 901.8,845.6 904.0,846.5 905.6,846.1 908.5,845.6 910.5,846.6 912.5,845.4 914.8,846.4 916.5,845.6 918.7,846.7 921.1,846.7 922.9,845.7 925.7,846.8 928.1,845.5 929.9,846.1 931.8,846.6 934.9,845.4 937.0,846.6 939.8,846.6 942.0,845.3 944.0,846.6 946.1,845.7 948.4,845.8 950.7,846.8 952.5,845.0 955.9,846.8 959.4,845.9 962.8,846.9 964.8,846.5 967.9,846.3 970.5,845.6 972.6,845.5 974.3,846.2 976.4,846.6 977.9,846.8 980.8,846.8 984.1,846.8 986.8,845.0 989.8,845.3 991.9,846.3 994.4,845.8 997.8,846.2 1000.0,845.5 1003.2,846.0 1006.3,845.7 1008.2,846.1 1011.3,845.3 1014.4,846.8 1017.5,846.6 1019.0,846.3 1022.2,845.1 1024.3,845.5 1026.8,845.8 1029.3,846.6 1030.8,845.1 1032.5,845.2 1034.2,846.9 1037.4,845.2 1039.9,845.6 1042.0,845.7 1044.8,846.2 1047.0,845.4 1049.2,845.2 1051.8,846.4 1054.1,845.2 1055.9,845.7 1058.6,846.6 1060.9,846.6 1063.6,845.9 1065.9,846.0 1068.8,845.8 1071.7,845.9 1073.7,846.1 1076.6,845.1 1078.9,845.9 1082.2,846.9 1084.4,846.8 1087.5,845.5 1089.9,845.2 1093.0,846.3 1096.3,846.6 1099.2,846.5 1101.8,845.2 1104.5,845.0 1106.2,846.5 1107.8,845.2 1109.5,846.8 1111.4,845.0 1114.6,845.2 1117.8,846.3 1120.9,846.9 1123.6,846.6 1125.2,846.5 1127.7,846.4 1129.4,846.5 1132.8,845.1 1134.9,846.1 1138.1,845.5 1139.9,845.5 1142.7,846.5 1145.0,845.7 1147.2,845.7 1149.6,845.2 1152.1,846.9 1154.4,846.5 1156.2,846.4 1159.2,846.3 1161.8,846.0 1164.6,846.8 1166.4,845.2 1169.4,846.8 1171.9,845.9 1174.8,845.4 1176.9,845.4 1179.5,845.6 1181.5,846.4 1184.9,845.6 1187.8,845.8 1191.0,846.2 1193.1,845.4 1194.6,846.0 1196.9,845.3 1199.1,845.6 1202.1,845.3 1205.6,846.0 1208.3,845.9 1211.5,846.6 1214.1,846.0 1217.0,846.7 1219.3,846.5 1222.8,845.9 1224.7,845.5 1227.7,846.4 1231.1,846.7 1233.1,845.4 1235.1,845.4 1238.0,846.7 1241.3,845.5 1244.5,845.6 1246.9,846.5 1248.5,845.2 1251.7,845.6 1253.9,846.2 1256.8,845.0 1258.9,845.9 1261.4,845.4 1264.1,846.9 1266.4,846.1 1268.1,845.5 1270.9,845.2 1274.2,846.8 1275.9,846.9 1278.2,846.5 1281.2,845.6 1284.0,846.3 1287.1,845.5 1290.1,846.9 1293.0,846.1 1294.7,846.0 1296.9,846.4 1299.8,846.1 1301.6,846.3 1304.4,845.4 1307.7,846.3 1309.4,846.9 1310.0,846.0 1310.0,850.4 1306.6,850.7 1303.4,850.8 1300.5,850.4 1298.2,850.1 1294.7,850.9 1291.7,850.9 1288.9,850.3 1286.2,851.0 1284.1,850.6 1281.6,850.9 1278.9,850.4 1276.1,850.6 1272.5,850.4 1268.8,850.1 1266.3,850.1 1264.1,850.9 1260.6,850.2 1258.2,850.5 1254.8,851.0 1251.3,850.7 1249.0,850.5 1246.6,850.6 1243.4,850.2 1240.9,850.9 1238.9,851.0 1235.1,851.1 1232.3,850.7 1229.2,850.8 1225.2,850.8 1222.6,851.0 1219.7,850.7 1216.2,850.0 1212.7,850.8 1209.7,850.6 1206.8,850.2 1203.7,850.0 1200.7,850.8 1197.8,850.7 1193.9,851.1 1191.6,851.0 1188.4,850.1 1185.6,850.3 1183.5,850.6 1179.6,850.4 1175.9,850.8 1173.6,851.0 1170.4,851.1 1167.0,850.9 1164.3,851.0 1160.4,851.0 1157.6,850.9 1154.6,850.1 1152.5,850.1 1150.1,850.2 1147.1,850.8 1144.0,850.5 1140.7,850.4 1137.8,850.9 1135.0,850.2 1131.2,850.9 1128.5,850.4 1125.4,850.7 1123.0,850.0 1120.6,850.9 1118.3,850.6 1115.9,850.3 1113.5,850.5 1111.2,850.0 1109.0,850.2 1106.0,850.1 1103.9,850.5 1101.1,850.8 1099.0,850.5 1096.2,850.0 1092.3,850.3 1090.1,850.6 1087.8,850.7 1085.1,850.1 1083.0,850.9 1080.4,850.9 1077.5,851.1 1074.9,850.3 1072.4,851.0 1069.1,850.4 1066.9,850.8 1063.0,850.7 1061.0,850.0 1058.8,850.2 1056.7,850.1 1053.4,851.1 1051.0,851.2 1048.1,851.0 1044.2,851.1 1042.2,850.4 1039.0,851.1 1036.8,850.4 1033.1,850.1 1030.3,850.4 1026.9,851.1 1024.6,850.9 1021.1,851.0 1018.0,851.1 1015.3,850.5 1012.8,850.9 1009.9,850.3 1007.5,850.9 1004.3,850.9 1001.5,850.6 999.2,850.9 997.2,850.6 993.7,850.8 991.5,850.3 987.8,850.8 984.0,851.0 981.1,851.1 977.7,850.4 974.9,850.1 972.1,851.1 969.9,850.7 967.7,850.1 964.4,850.3 962.3,850.2 959.0,850.7 957.0,850.3 953.1,850.3 949.9,850.5 946.4,850.7 942.8,850.6 940.4,850.2 938.3,851.0 936.0,850.0 932.1,850.2 928.3,850.1 925.4,850.3 921.7,850.7 918.4,850.9 914.7,850.4 911.5,850.5 909.3,851.0 906.1,851.0 903.7,850.6 900.7,850.9 898.6,850.4 895.6,850.1 892.5,850.9 889.7,850.8 886.5,850.3 883.8,851.2 881.1,850.5 878.9,850.3 876.6,851.1 873.1,851.0 869.2,850.7 865.3,850.6 862.5,851.1 858.7,851.1 855.7,850.9 852.9,851.2 849.0,850.4 845.2,850.2 843.0,850.9 840.4,850.6 837.1,850.0 833.6,850.3 830.7,850.4 827.3,850.9 824.7,850.1 822.1,850.5 819.9,850.2 816.4,850.8 812.5,851.2 808.7,850.4 806.4,850.4 803.5,850.6 800.4,850.4 796.7,850.3 793.7,851.1 790.1,850.4 787.6,851.0 785.6,850.2 782.6,850.6 780.2,850.1 777.8,850.9 774.9,851.2 771.3,851.2 769.2,850.2 767.2,850.5 764.5,850.1 761.4,850.1 758.8,850.3 755.2,850.5 752.7,850.1 749.8,850.8 746.5,851.1 742.9,850.3 740.6,850.9 737.0,850.6 733.4,850.7 730.8,850.2 729.5,850.5" fill="#8b4513"/>
<line x1="72.4" y1="848.4" x2="621.7" y2="848.4" stroke="#3a3a3a" stroke-width="1.7" stroke-dasharray="8.7 6.5 2.5 6.5"/>
<line x1="72.4" y1="792.6" x2="621.7" y2="792.6" stroke="#3a3a3a" stroke-width="1.7" stroke-dasharray="8.7 6.5 2.5 6.5"/>
<line x1="72.4" y1="736.9" x2="621.7" y2="736.9" stroke="#3a3a3a" stroke-width="1.7" stroke-dasharray="8.7 6.5 2.5 6.5"/>
<line x1="72.4" y1="681.1" x2="621.7" y2="681.1" stroke="#3a3a3a" stroke-width="1.7" stroke-dasharray="8.7 6.5 2.5 6.5"/>
<line x1="72.4" y1="625.4" x2="621.7" y2="625.4" stroke="#3a3a3a" stroke-width="1.7" stroke-dasharray="8.7 6.5 2.5 6.5"/>
<line x1="72.4" y1="569.6" x2="621.7" y2="569.6" stroke="#3a3a3a" stroke-width="1.7" stroke-dasharray="8.7 6.5 2.5 6.5"/>
<line x1="729.1" y1="850.1" x2="1310.3" y2="850.1" stroke="#3a3a3a" stroke-width="1.7" stroke-dasharray="9.5 7 2.5 7.5"/>
<line x1="729.1" y1="794.1" x2="1310.3" y2="794.1" stroke="#3a3a3a" stroke-width="1.7" stroke-dasharray="9.5 7 2.5 7.5"/>
<line x1="729.1" y1="738.2" x2="1310.3" y2="738.2" stroke="#3a3a3a" stroke-width="1.7" stroke-dasharray="9.5 7 2.5 7.5"/>
<line x1="729.1" y1="682.2" x2="1310.3" y2="682.2" stroke="#3a3a3a" stroke-width="1.7" stroke-dasharray="9.5 7 2.5 7.5"/>
<line x1="729.1" y1="626.3" x2="1310.3" y2="626.3" stroke="#3a3a3a" stroke-width="1.7" stroke-dasharray="9.5 7 2.5 7.5"/>
<line x1="729.1" y1="570.3" x2="1310.3" y2="570.3" stroke="#3a3a3a" stroke-width="1.7" stroke-dasharray="9.5 7 2.5 7.5"/>
<text x="40.6" y="65.9" font-size="28" text-anchor="start" fill="#111" style="stroke:none">a</text>
<text x="58.7" y="65.9" font-size="28" text-anchor="start" fill="#111" style="stroke:none">)</text>
<text x="644.3" y="65.7" font-size="28" text-anchor="start" fill="#111" style="stroke:none">b</text>
<text x="661.9" y="65.7" font-size="28" text-anchor="start" fill="#111" style="stroke:none">)</text>
<text x="40.8" y="528.0" font-size="28" text-anchor="start" fill="#111" style="stroke:none">c</text>
<text x="57.2" y="528.0" font-size="28" text-anchor="start" fill="#111" style="stroke:none">)</text>
<text x="635.8" y="528.0" font-size="28" text-anchor="start" fill="#111" style="stroke:none">d</text>
<text x="653.8" y="528.0" font-size="28" text-anchor="start" fill="#111" style="stroke:none">)</text>
<text x="675.8" y="435.7" font-size="17.8" text-anchor="end" fill="#222" textLength="39.4" lengthAdjust="spacingAndGlyphs" >0.0 m</text>
<text x="675.8" y="393.3" font-size="17.8" text-anchor="end" fill="#222" textLength="39.4" lengthAdjust="spacingAndGlyphs" >0.1 m</text>
<text x="675.8" y="350.9" font-size="17.8" text-anchor="end" fill="#222" textLength="39.4" lengthAdjust="spacingAndGlyphs" >0.2 m</text>
<text x="675.8" y="308.5" font-size="17.8" text-anchor="end" fill="#222" textLength="39.4" lengthAdjust="spacingAndGlyphs" >0.3 m</text>
<text x="675.8" y="266.1" font-size="17.8" text-anchor="end" fill="#222" textLength="39.4" lengthAdjust="spacingAndGlyphs" >0.4 m</text>
<text x="675.8" y="223.7" font-size="17.8" text-anchor="end" fill="#222" textLength="39.4" lengthAdjust="spacingAndGlyphs" >0.5 m</text>
<text x="675.8" y="181.2" font-size="17.8" text-anchor="end" fill="#222" textLength="39.4" lengthAdjust="spacingAndGlyphs" >0.6 m</text>
<text x="675.8" y="138.8" font-size="17.8" text-anchor="end" fill="#222" textLength="39.4" lengthAdjust="spacingAndGlyphs" >0.7 m</text>
<text x="675.8" y="96.4" font-size="17.8" text-anchor="end" fill="#222" textLength="39.4" lengthAdjust="spacingAndGlyphs" >0.8 m</text>
<line x1="690.9" y1="467.8" x2="690.9" y2="475.8" stroke="#222" stroke-width="1.5"/>
<line x1="764.8" y1="467.8" x2="764.8" y2="475.8" stroke="#222" stroke-width="1.5"/>
<text x="764.8" y="496.6" font-size="17.8" text-anchor="middle" fill="#222" textLength="26.26" lengthAdjust="spacingAndGlyphs" >5 m</text>
<line x1="838.6" y1="467.8" x2="838.6" y2="475.8" stroke="#222" stroke-width="1.5"/>
<text x="838.6" y="496.6" font-size="17.8" text-anchor="middle" fill="#222" textLength="35.02" lengthAdjust="spacingAndGlyphs" >10 m</text>
<line x1="912.4" y1="467.8" x2="912.4" y2="475.8" stroke="#222" stroke-width="1.5"/>
<text x="912.4" y="496.6" font-size="17.8" text-anchor="middle" fill="#222" textLength="35.02" lengthAdjust="spacingAndGlyphs" >15 m</text>
<line x1="986.3" y1="467.8" x2="986.3" y2="475.8" stroke="#222" stroke-width="1.5"/>
<text x="986.3" y="496.6" font-size="17.8" text-anchor="middle" fill="#222" textLength="35.02" lengthAdjust="spacingAndGlyphs" >20 m</text>
<line x1="1060.2" y1="467.8" x2="1060.2" y2="475.8" stroke="#222" stroke-width="1.5"/>
<text x="1060.2" y="496.6" font-size="17.8" text-anchor="middle" fill="#222" textLength="35.02" lengthAdjust="spacingAndGlyphs" >25 m</text>
<line x1="1134.0" y1="467.8" x2="1134.0" y2="475.8" stroke="#222" stroke-width="1.5"/>
<text x="1134.0" y="496.6" font-size="17.8" text-anchor="middle" fill="#222" textLength="35.02" lengthAdjust="spacingAndGlyphs" >30 m</text>
<line x1="1207.8" y1="467.8" x2="1207.8" y2="475.8" stroke="#222" stroke-width="1.5"/>
<text x="1207.8" y="496.6" font-size="17.8" text-anchor="middle" fill="#222" textLength="35.02" lengthAdjust="spacingAndGlyphs" >35 m</text>
<line x1="1281.7" y1="467.8" x2="1281.7" y2="475.8" stroke="#222" stroke-width="1.5"/>
<text x="1322.0" y="496.6" font-size="17.8" text-anchor="end" fill="#222" textLength="48.16" lengthAdjust="spacingAndGlyphs" >42.7 m</text>
<text x="61.0" y="854.2" font-size="16.3" text-anchor="end" fill="#222" textLength="32.21" lengthAdjust="spacingAndGlyphs" >0.0 m</text>
<text x="61.0" y="798.4" font-size="16.3" text-anchor="end" fill="#222" textLength="32.21" lengthAdjust="spacingAndGlyphs" >0.5 m</text>
<text x="61.0" y="742.7" font-size="16.3" text-anchor="end" fill="#222" textLength="32.21" lengthAdjust="spacingAndGlyphs" >1.0 m</text>
<text x="61.0" y="686.9" font-size="16.3" text-anchor="end" fill="#222" textLength="32.21" lengthAdjust="spacingAndGlyphs" >1.5 m</text>
<text x="61.0" y="631.2" font-size="16.3" text-anchor="end" fill="#222" textLength="32.21" lengthAdjust="spacingAndGlyphs" >2.0 m</text>
<text x="61.0" y="575.4" font-size="16.3" text-anchor="end" fill="#222" textLength="32.21" lengthAdjust="spacingAndGlyphs" >2.5 m</text>
<line x1="72.6" y1="874.3" x2="72.6" y2="881.6" stroke="#222" stroke-width="1.3"/>
<line x1="138.2" y1="874.3" x2="138.2" y2="881.6" stroke="#222" stroke-width="1.3"/>
<text x="138.2" y="898.6" font-size="16.3" text-anchor="middle" fill="#222" textLength="32.21" lengthAdjust="spacingAndGlyphs" >2.5 m</text>
<line x1="203.9" y1="874.3" x2="203.9" y2="881.6" stroke="#222" stroke-width="1.3"/>
<text x="203.9" y="898.6" font-size="16.3" text-anchor="middle" fill="#222" textLength="32.21" lengthAdjust="spacingAndGlyphs" >5.0 m</text>
<line x1="269.5" y1="874.3" x2="269.5" y2="881.6" stroke="#222" stroke-width="1.3"/>
<text x="269.5" y="898.6" font-size="16.3" text-anchor="middle" fill="#222" textLength="32.21" lengthAdjust="spacingAndGlyphs" >7.5 m</text>
<line x1="335.2" y1="874.3" x2="335.2" y2="881.6" stroke="#222" stroke-width="1.3"/>
<text x="335.2" y="898.6" font-size="16.3" text-anchor="middle" fill="#222" textLength="39.37" lengthAdjust="spacingAndGlyphs" >10.0 m</text>
<line x1="400.8" y1="874.3" x2="400.8" y2="881.6" stroke="#222" stroke-width="1.3"/>
<text x="400.8" y="898.6" font-size="16.3" text-anchor="middle" fill="#222" textLength="39.37" lengthAdjust="spacingAndGlyphs" >12.5 m</text>
<line x1="466.4" y1="874.3" x2="466.4" y2="881.6" stroke="#222" stroke-width="1.3"/>
<text x="466.4" y="898.6" font-size="16.3" text-anchor="middle" fill="#222" textLength="39.37" lengthAdjust="spacingAndGlyphs" >15.0 m</text>
<line x1="532.1" y1="874.3" x2="532.1" y2="881.6" stroke="#222" stroke-width="1.3"/>
<text x="532.1" y="898.6" font-size="16.3" text-anchor="middle" fill="#222" textLength="39.37" lengthAdjust="spacingAndGlyphs" >17.5 m</text>
<line x1="597.7" y1="874.3" x2="597.7" y2="881.6" stroke="#222" stroke-width="1.3"/>
<line x1="621.3" y1="874.3" x2="621.3" y2="881.6" stroke="#222" stroke-width="1.3"/>
<text x="621.0" y="898.6" font-size="16.3" text-anchor="end" fill="#222" textLength="46.53" lengthAdjust="spacingAndGlyphs" >20.89 m</text>
<text x="696.6" y="855.9" font-size="16.3" text-anchor="middle" fill="#222" textLength="32.21" lengthAdjust="spacingAndGlyphs" >0.0 m</text>
<text x="696.6" y="799.9" font-size="16.3" text-anchor="middle" fill="#222" textLength="32.21" lengthAdjust="spacingAndGlyphs" >2.5 m</text>
<text x="696.6" y="744.0" font-size="16.3" text-anchor="middle" fill="#222" textLength="32.21" lengthAdjust="spacingAndGlyphs" >5.0 m</text>
<text x="696.6" y="688.0" font-size="16.3" text-anchor="middle" fill="#222" textLength="32.21" lengthAdjust="spacingAndGlyphs" >7.5 m</text>
<text x="696.6" y="632.1" font-size="16.3" text-anchor="middle" fill="#222" textLength="39.37" lengthAdjust="spacingAndGlyphs" >10.0 m</text>
<text x="696.6" y="576.1" font-size="16.3" text-anchor="middle" fill="#222" textLength="39.37" lengthAdjust="spacingAndGlyphs" >12.5 m</text>
<line x1="729.5" y1="879.9" x2="729.5" y2="887.2" stroke="#222" stroke-width="1.3"/>
<line x1="795.5" y1="879.9" x2="795.5" y2="887.2" stroke="#222" stroke-width="1.3"/>
<text x="795.5" y="905.8" font-size="16.3" text-anchor="middle" fill="#222" textLength="21.47" lengthAdjust="spacingAndGlyphs" >5 m</text>
<line x1="861.4" y1="879.9" x2="861.4" y2="887.2" stroke="#222" stroke-width="1.3"/>
<text x="861.4" y="905.8" font-size="16.3" text-anchor="middle" fill="#222" textLength="28.63" lengthAdjust="spacingAndGlyphs" >10 m</text>
<line x1="927.4" y1="879.9" x2="927.4" y2="887.2" stroke="#222" stroke-width="1.3"/>
<text x="927.4" y="905.8" font-size="16.3" text-anchor="middle" fill="#222" textLength="28.63" lengthAdjust="spacingAndGlyphs" >15 m</text>
<line x1="993.3" y1="879.9" x2="993.3" y2="887.2" stroke="#222" stroke-width="1.3"/>
<text x="993.3" y="905.8" font-size="16.3" text-anchor="middle" fill="#222" textLength="28.63" lengthAdjust="spacingAndGlyphs" >20 m</text>
<line x1="1059.3" y1="879.9" x2="1059.3" y2="887.2" stroke="#222" stroke-width="1.3"/>
<text x="1059.3" y="905.8" font-size="16.3" text-anchor="middle" fill="#222" textLength="28.63" lengthAdjust="spacingAndGlyphs" >25 m</text>
<line x1="1125.3" y1="879.9" x2="1125.3" y2="887.2" stroke="#222" stroke-width="1.3"/>
<text x="1125.3" y="905.8" font-size="16.3" text-anchor="middle" fill="#222" textLength="28.63" lengthAdjust="spacingAndGlyphs" >30 m</text>
<line x1="1191.2" y1="879.9" x2="1191.2" y2="887.2" stroke="#222" stroke-width="1.3"/>
<text x="1191.2" y="905.8" font-size="16.3" text-anchor="middle" fill="#222" textLength="28.63" lengthAdjust="spacingAndGlyphs" >35 m</text>
<line x1="1257.2" y1="879.9" x2="1257.2" y2="887.2" stroke="#222" stroke-width="1.3"/>
<line x1="1309.4" y1="879.9" x2="1309.4" y2="887.2" stroke="#222" stroke-width="1.3"/>
<text x="1309.0" y="905.8" font-size="16.3" text-anchor="end" fill="#222" textLength="39.37" lengthAdjust="spacingAndGlyphs" >44.0 m</text>
</svg></body></html>
